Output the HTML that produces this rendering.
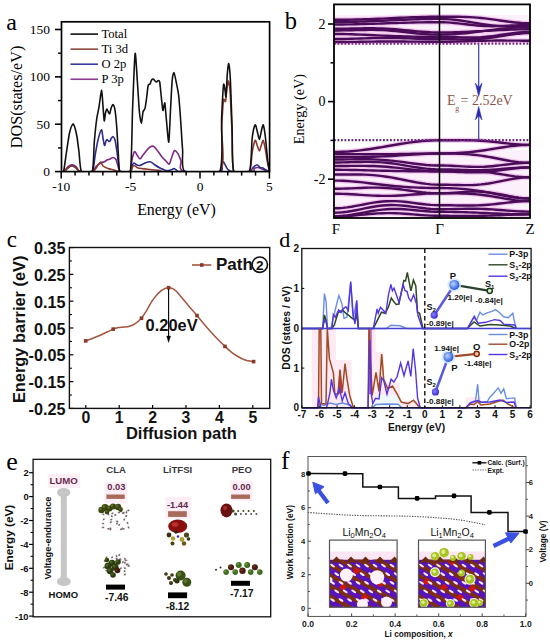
<!DOCTYPE html><html><head><meta charset="utf-8"><style>html,body{margin:0;padding:0;background:#fff;width:550px;height:642px;overflow:hidden}svg{display:block}</style></head><body>
<svg width="550" height="642" viewBox="0 0 550 642">
<rect x="0" y="0" width="550" height="642" fill="#fff" stroke="none" stroke-width="1" />
<text x="6.3" y="29.6" font-family='"Liberation Serif", serif' font-size="24" font-weight="normal" text-anchor="start" fill="#000" >a</text>
<line x1="55" y1="171.6" x2="61.5" y2="171.6" stroke="#000" stroke-width="1.6" />
<text x="50" y="176.2" font-family='"Liberation Serif", serif' font-size="13.5" font-weight="normal" text-anchor="end" fill="#000" >0</text>
<line x1="55" y1="124.23" x2="61.5" y2="124.23" stroke="#000" stroke-width="1.6" />
<text x="50" y="128.83" font-family='"Liberation Serif", serif' font-size="13.5" font-weight="normal" text-anchor="end" fill="#000" >50</text>
<line x1="55" y1="76.87" x2="61.5" y2="76.87" stroke="#000" stroke-width="1.6" />
<text x="50" y="81.47" font-family='"Liberation Serif", serif' font-size="13.5" font-weight="normal" text-anchor="end" fill="#000" >100</text>
<line x1="55" y1="29.5" x2="61.5" y2="29.5" stroke="#000" stroke-width="1.6" />
<text x="50" y="34.1" font-family='"Liberation Serif", serif' font-size="13.5" font-weight="normal" text-anchor="end" fill="#000" >150</text>
<line x1="58" y1="147.92" x2="61.5" y2="147.92" stroke="#000" stroke-width="1.4" />
<line x1="58" y1="100.55" x2="61.5" y2="100.55" stroke="#000" stroke-width="1.4" />
<line x1="58" y1="53.19" x2="61.5" y2="53.19" stroke="#000" stroke-width="1.4" />
<line x1="61.2" y1="171.6" x2="61.2" y2="178.6" stroke="#000" stroke-width="1.5" />
<line x1="75.08" y1="171.6" x2="75.08" y2="175.6" stroke="#000" stroke-width="1.5" />
<line x1="88.96" y1="171.6" x2="88.96" y2="175.6" stroke="#000" stroke-width="1.5" />
<line x1="102.84" y1="171.6" x2="102.84" y2="175.6" stroke="#000" stroke-width="1.5" />
<line x1="116.72" y1="171.6" x2="116.72" y2="175.6" stroke="#000" stroke-width="1.5" />
<line x1="130.6" y1="171.6" x2="130.6" y2="178.6" stroke="#000" stroke-width="1.5" />
<line x1="144.48" y1="171.6" x2="144.48" y2="175.6" stroke="#000" stroke-width="1.5" />
<line x1="158.36" y1="171.6" x2="158.36" y2="175.6" stroke="#000" stroke-width="1.5" />
<line x1="172.24" y1="171.6" x2="172.24" y2="175.6" stroke="#000" stroke-width="1.5" />
<line x1="186.12" y1="171.6" x2="186.12" y2="175.6" stroke="#000" stroke-width="1.5" />
<line x1="200" y1="171.6" x2="200" y2="178.6" stroke="#000" stroke-width="1.5" />
<line x1="213.88" y1="171.6" x2="213.88" y2="175.6" stroke="#000" stroke-width="1.5" />
<line x1="227.76" y1="171.6" x2="227.76" y2="175.6" stroke="#000" stroke-width="1.5" />
<line x1="241.64" y1="171.6" x2="241.64" y2="175.6" stroke="#000" stroke-width="1.5" />
<line x1="255.52" y1="171.6" x2="255.52" y2="175.6" stroke="#000" stroke-width="1.5" />
<line x1="269.4" y1="171.6" x2="269.4" y2="178.6" stroke="#000" stroke-width="1.5" />
<text x="61.2" y="190.8" font-family='"Liberation Serif", serif' font-size="13.5" font-weight="normal" text-anchor="middle" fill="#000" >-10</text>
<text x="130.6" y="190.8" font-family='"Liberation Serif", serif' font-size="13.5" font-weight="normal" text-anchor="middle" fill="#000" >-5</text>
<text x="200" y="190.8" font-family='"Liberation Serif", serif' font-size="13.5" font-weight="normal" text-anchor="middle" fill="#000" >0</text>
<text x="269.4" y="190.8" font-family='"Liberation Serif", serif' font-size="13.5" font-weight="normal" text-anchor="middle" fill="#000" >5</text>
<text x="0" y="0" transform="translate(21.6,96.9) rotate(-90)" font-family='"Liberation Serif", serif' font-size="16.2" font-weight="normal" text-anchor="middle" fill="#000">DOS(states/eV)</text>
<text x="176.5" y="214.6" font-family='"Liberation Serif", serif' font-size="15.9" font-weight="normal" text-anchor="middle" fill="#000" >Energy (eV)</text>
<line x1="70.5" y1="34.1" x2="98" y2="34.1" stroke="#111" stroke-width="1.6" />
<text x="101.5" y="38.1" font-family='"Liberation Serif", serif' font-size="12.6" font-weight="normal" text-anchor="start" fill="#000" >Total</text>
<line x1="70.5" y1="49.15" x2="98" y2="49.15" stroke="#8c4a3c" stroke-width="1.6" />
<text x="101.5" y="53.15" font-family='"Liberation Serif", serif' font-size="12.6" font-weight="normal" text-anchor="start" fill="#000" >Ti 3d</text>
<line x1="70.5" y1="64.2" x2="98" y2="64.2" stroke="#3a3a9c" stroke-width="1.6" />
<text x="101.5" y="68.2" font-family='"Liberation Serif", serif' font-size="12.6" font-weight="normal" text-anchor="start" fill="#000" >O 2p</text>
<line x1="70.5" y1="79.25" x2="98" y2="79.25" stroke="#8a3a90" stroke-width="1.6" />
<text x="101.5" y="83.25" font-family='"Liberation Serif", serif' font-size="12.6" font-weight="normal" text-anchor="start" fill="#000" >P 3p</text>
<clipPath id="ca"><rect x="61.5" y="21.8" width="208.1" height="149.8"/></clipPath><g clip-path="url(#ca)">
<path d="M61.5,171.6 C61.79,171.6 63.24,172.19 64,171.6 C64.76,171 67.07,167.31 68,166.5 C68.93,165.69 71.07,164.7 72,164.7 C72.93,164.7 75.07,165.69 76,166.5 C76.93,167.31 78.11,171 80,171.6 C81.89,172.19 90.33,172.19 92.2,171.6 C94.07,171 94.92,167.56 96,166.5 C97.08,165.44 100.57,163.03 101.5,162.5 C102.43,161.97 103.36,162.29 104,162 C104.64,161.71 106.3,160.35 107,160 C107.7,159.65 109.3,159.29 110,159 C110.7,158.71 112.3,157.44 113,157.5 C113.7,157.56 115.42,158.51 116,159.5 C116.58,160.49 117.53,164.59 118,166 C118.47,167.41 118.56,170.95 120,171.6 C121.44,172.25 128.9,172.95 130.3,171.6 C131.7,170.25 131.51,162.33 132,160 C132.49,157.67 133.92,152.18 134.5,151.6 C135.08,151.02 136.36,154.14 137,155 C137.64,155.86 139.3,159 140,159 C140.7,159 142.18,156.05 143,155 C143.82,153.95 146.18,150.93 147,150 C147.82,149.07 149.25,147.43 150,147 C150.75,146.57 152.58,145.95 153.4,146.3 C154.22,146.65 156,148.75 157,150 C158,151.25 160.95,155.72 162,157 C163.05,158.28 165.16,160.16 166,161 C166.84,161.84 168.56,164.55 169.2,164.2 C169.84,163.85 170.88,159.6 171.5,158 C172.12,156.4 173.74,151 174.5,150.5 C175.26,150 177.24,152.47 178,153.7 C178.76,154.92 180.18,158.91 181,161 C181.82,163.09 177.03,170.36 185,171.6 C192.97,172.84 241.25,171.96 249.3,171.6 C257.35,171.24 252.99,168.98 254,168.5 C255.01,168.02 257.07,167.44 258,167.5 C258.93,167.56 260.83,168.52 262,169 C263.17,169.48 267.3,171.3 268,171.6" stroke="#7e2a86" stroke-width="1.6" fill="none" />
<path d="M61.5,171.6 C61.79,171.6 63.24,172.02 64,171.6 C64.76,171.18 67.07,168.68 68,168 C68.93,167.32 71.07,165.86 72,165.8 C72.93,165.74 75.07,166.82 76,167.5 C76.93,168.18 78.11,171.12 80,171.6 C81.89,172.08 90.45,173.42 92.2,171.6 C93.95,169.78 94.32,159.69 95,156 C95.68,152.31 97.24,143.06 98,140 C98.76,136.94 100.92,130.03 101.5,129.8 C102.08,129.57 102.65,136.17 103,138 C103.35,139.83 104.15,145.15 104.5,145.5 C104.85,145.85 105.71,141.69 106,141 C106.29,140.31 106.71,139.6 107,139.6 C107.29,139.6 108.19,140.79 108.5,141 C108.81,141.21 109.35,141.75 109.7,141.4 C110.05,141.05 111.11,138.56 111.5,138 C111.89,137.44 112.59,136.37 113,136.6 C113.41,136.83 114.53,138.2 115,140 C115.47,141.8 116.53,148.73 117,152 C117.47,155.27 118.65,165.71 119,168 C119.35,170.29 118.68,171.18 120,171.6 C121.32,172.02 128.9,172.25 130.3,171.6 C131.7,170.95 131.57,167 132,166 C132.43,165 133.42,163.12 134,163 C134.58,162.88 136.3,164.71 137,165 C137.7,165.29 139.07,165.73 140,165.5 C140.93,165.27 143.8,163.44 145,163 C146.2,162.56 149.13,161.47 150.3,161.7 C151.47,161.93 153.87,164.26 155,165 C156.13,165.74 158.6,167.32 160,168 C161.4,168.68 165.6,170.62 167,170.8 C168.4,170.98 171.18,169.77 172,169.5 C172.82,169.23 173.42,168.38 174,168.5 C174.58,168.62 176.3,170.14 177,170.5 C177.7,170.86 175.03,171.47 180,171.6 C184.97,171.73 214.75,172.37 219.6,171.6 C224.45,170.83 221.14,166.14 221.6,165 C222.06,163.86 222.99,161.62 223.5,161.8 C224.01,161.98 225.47,165.6 226,166.5 C226.53,167.4 227.3,168.91 228,169.5 C228.7,170.09 229.51,171.35 232,171.6 C234.49,171.84 246.85,172.08 249.3,171.6 C251.75,171.12 252.1,168.31 253,167.5 C253.9,166.69 256.18,164.7 257,164.7 C257.82,164.7 259.3,167.12 260,167.5 C260.7,167.88 262.3,167.71 263,168 C263.7,168.29 265.23,169.58 266,170 C266.77,170.42 269.18,171.41 269.6,171.6" stroke="#2c2c8c" stroke-width="1.6" fill="none" />
<path d="M61.5,171.6 C61.79,171.6 63.24,172.08 64,171.6 C64.76,171.12 67.07,168.15 68,167.5 C68.93,166.85 71.07,165.94 72,166 C72.93,166.06 75.07,167.35 76,168 C76.93,168.65 78.11,171.18 80,171.6 C81.89,172.02 90.39,171.9 92.2,171.6 C94.01,171.3 94.82,169.77 95.5,169 C96.18,168.23 97.38,165.82 98,165 C98.62,164.18 100.22,161.88 100.8,162 C101.38,162.12 102.16,165.24 103,166 C103.84,166.76 106.72,168.03 108,168.5 C109.28,168.97 112.72,169.64 114,170 C115.28,170.36 117.1,171.41 119,171.6 C120.9,171.79 128.73,172.14 130.3,171.6 C131.88,171.06 132.01,167.71 132.5,167 C132.99,166.29 133.86,165.38 134.5,165.5 C135.14,165.62 136.19,167.53 138,168 C139.81,168.47 147.43,169.21 150,169.5 C152.57,169.79 158.25,170.25 160,170.5 C161.75,170.75 158.05,171.47 165,171.6 C171.95,171.73 213,176.69 219.6,171.6 C226.2,166.51 221.14,136.35 221.6,128 C222.06,119.65 223.04,103.09 223.5,100 C223.96,96.91 225.09,102.9 225.5,101.5 C225.91,100.1 226.64,90.39 227,88 C227.36,85.61 228.22,80.18 228.6,81 C228.98,81.82 229.89,88.7 230.3,95 C230.71,101.3 231.69,126.06 232.1,135 C232.51,143.94 231.79,167.33 233.8,171.6 C235.81,175.87 247.15,173.89 249.3,171.6 C251.45,169.31 251.51,155.64 252.2,152 C252.89,148.36 254.59,141.1 255.2,140.4 C255.81,139.7 256.91,144.76 257.4,146 C257.89,147.24 258.93,151.12 259.4,151 C259.87,150.88 260.94,146.24 261.4,145 C261.85,143.76 262.82,139.82 263.3,140.4 C263.78,140.98 265,147.36 265.5,150 C266,152.64 267.12,160.48 267.6,163 C268.08,165.52 269.37,170.6 269.6,171.6" stroke="#8a3a2c" stroke-width="1.6" fill="none" />
<path d="M61.5,171.6 C61.74,171.6 63.02,173.89 63.6,171.6 C64.18,169.31 65.81,156.5 66.5,152 C67.19,147.5 68.75,136.27 69.5,133 C70.25,129.73 72.26,124.58 72.9,124 C73.54,123.42 74.52,126.48 75,128 C75.48,129.52 76.53,134.2 77,137 C77.47,139.8 78.47,147.96 79,152 C79.53,156.04 79.96,169.31 81.5,171.6 C83.04,173.89 90.71,175.05 92.2,171.6 C93.69,168.15 93.77,148.14 94.3,142 C94.83,135.86 96.15,123.08 96.7,119 C97.25,114.92 98.44,110.34 99,107 C99.56,103.66 101.03,90.52 101.5,90.4 C101.97,90.28 102.69,102.45 103,106 C103.31,109.55 103.91,119.98 104.2,120.8 C104.49,121.62 105.19,114.38 105.5,113 C105.81,111.62 106.57,109.12 106.9,109 C107.23,108.88 107.97,111.45 108.3,112 C108.63,112.55 109.35,114.23 109.7,113.7 C110.05,113.17 110.9,108.55 111.3,107.5 C111.7,106.45 112.67,104.41 113.1,104.7 C113.53,104.99 114.57,107.28 115,110 C115.43,112.72 116.4,122.75 116.8,128 C117.2,133.25 118.03,149.91 118.4,155 C118.77,160.09 118.61,169.66 120,171.6 C121.39,173.54 128.83,179.02 130.3,171.6 C131.77,164.18 132.04,121.75 132.6,108 C133.16,94.25 134.54,56.73 135.1,53.7 C135.66,50.67 136.9,75.2 137.4,82 C137.9,88.8 138.93,107.19 139.4,112 C139.87,116.81 140.98,123.2 141.4,123.2 C141.82,123.2 142.58,113.73 143,112 C143.42,110.27 144.58,110.03 145,108.4 C145.42,106.77 146.23,100.7 146.6,98 C146.97,95.3 147.8,86.93 148.2,85.3 C148.6,83.67 149.6,84.62 150,84 C150.4,83.38 151.2,80.58 151.6,80 C152,79.42 153,78.88 153.4,79 C153.8,79.12 154.63,80.65 155,81 C155.37,81.35 156.23,82.06 156.6,82 C156.97,81.94 157.84,80.5 158.2,80.5 C158.56,80.5 159.35,80.19 159.7,82 C160.05,83.81 160.83,92.67 161.2,96 C161.57,99.33 162.48,109.68 162.9,110.5 C163.32,111.32 164.37,101.66 164.8,103 C165.23,104.34 166.13,117.45 166.6,122 C167.07,126.55 168.33,143.63 168.8,142 C169.27,140.37 170.2,115.23 170.6,108 C171,100.77 171.8,84.13 172.2,80 C172.6,75.87 173.53,72.37 174,72.6 C174.47,72.83 175.65,79.29 176.2,82 C176.75,84.71 178.2,91.6 178.7,95.8 C179.2,100 180.04,111.68 180.5,118 C180.96,124.32 182.07,143.75 182.6,150 C183.12,156.25 180.68,169.08 185,171.6 C189.32,174.12 215.33,177.85 219.6,171.6 C223.87,165.35 221.14,128.1 221.6,118 C222.06,107.9 223.1,88.27 223.5,85 C223.9,81.73 224.71,88.64 225,90 C225.29,91.36 225.73,98.57 226,96.7 C226.27,94.83 226.99,77.86 227.3,74 C227.62,70.14 228.34,62.9 228.7,63.6 C229.06,64.3 230,72.49 230.4,80 C230.8,87.51 231.7,117.31 232.1,128 C232.5,138.69 231.79,166.51 233.8,171.6 C235.81,176.69 247.15,175.52 249.3,171.6 C251.45,167.68 251.51,143.45 252.2,138 C252.89,132.55 254.59,125.6 255.2,124.9 C255.81,124.2 256.91,130.31 257.4,132 C257.89,133.69 258.93,139.52 259.4,139.4 C259.87,139.28 260.94,132.69 261.4,131 C261.85,129.31 262.82,124.08 263.3,124.9 C263.78,125.72 265,133.91 265.5,138 C266,142.09 267.12,156.08 267.6,160 C268.08,163.92 269.37,170.25 269.6,171.6" stroke="#111" stroke-width="1.6" fill="none" />
</g>
<rect x="61.5" y="21.8" width="208.1" height="149.8" fill="none" stroke="#000" stroke-width="1.7" />
<text x="284.8" y="29" font-family='"Liberation Serif", serif' font-size="24.5" font-weight="normal" text-anchor="start" fill="#000" >b</text>
<line x1="328" y1="179.2" x2="334" y2="179.2" stroke="#000" stroke-width="1.6" />
<text x="325.5" y="184" font-family='"Liberation Serif", serif' font-size="14" font-weight="normal" text-anchor="end" fill="#000" >-2</text>
<line x1="328" y1="101.6" x2="334" y2="101.6" stroke="#000" stroke-width="1.6" />
<text x="325.5" y="106.4" font-family='"Liberation Serif", serif' font-size="14" font-weight="normal" text-anchor="end" fill="#000" >0</text>
<line x1="328" y1="24" x2="334" y2="24" stroke="#000" stroke-width="1.6" />
<text x="325.5" y="28.8" font-family='"Liberation Serif", serif' font-size="14" font-weight="normal" text-anchor="end" fill="#000" >2</text>
<line x1="330.5" y1="140.4" x2="334" y2="140.4" stroke="#000" stroke-width="1.5" />
<line x1="330.5" y1="62.8" x2="334" y2="62.8" stroke="#000" stroke-width="1.5" />
<text x="0" y="0" transform="translate(304.3,109.1) rotate(-90)" font-family='"Liberation Serif", serif' font-size="14.2" font-weight="normal" text-anchor="middle" fill="#000">Energy (eV)</text>
<text x="336" y="234.3" font-family='"Liberation Serif", serif' font-size="15" font-weight="normal" text-anchor="middle" fill="#000" >F</text>
<text x="439.5" y="234.3" font-family='"Liberation Serif", serif' font-size="15" font-weight="normal" text-anchor="middle" fill="#000" >Γ</text>
<text x="530" y="234.3" font-family='"Liberation Serif", serif' font-size="15" font-weight="normal" text-anchor="middle" fill="#000" >Z</text>
<clipPath id="cb"><rect x="334" y="4.4" width="196" height="213.6"/></clipPath>
<g clip-path="url(#cb)">
<rect x="334" y="15" width="196" height="29" fill="#fcf0fa" stroke="none" stroke-width="1" />
<rect x="334" y="150" width="196" height="69" fill="#fcf0fa" stroke="none" stroke-width="1" />
<path d="M334,152 L338.4,151.95 L342.79,151.81 L347.19,151.58 L351.58,151.25 L355.98,150.85 L360.38,150.36 L364.77,149.81 L369.17,149.19 L373.56,148.52 L377.96,147.8 L382.35,147.06 L386.75,146.3 L391.15,145.53 L395.54,144.78 L399.94,144.04 L404.33,143.34 L408.73,142.68 L413.12,142.09 L417.52,141.56 L421.92,141.12 L426.31,140.77 L430.71,140.51 L435.1,140.35 L439.5,140.3 L443.27,140.29 L447.04,140.27 L450.81,140.24 L454.58,140.21 L458.35,140.18 L462.12,140.17 L465.9,140.19 L469.67,140.25 L473.44,140.35 L477.21,140.51 L480.98,140.73 L484.75,141 L488.52,141.33 L492.29,141.7 L496.06,142.11 L499.83,142.55 L503.6,142.99 L507.38,143.43 L511.15,143.83 L514.92,144.19 L518.69,144.49 L522.46,144.71 L526.23,144.85 L530,144.9" stroke="#f3c8ef" stroke-width="5" fill="none" />
<path d="M334,154 L338.4,154.01 L342.79,154.02 L347.19,154.05 L351.58,154.08 L355.98,154.12 L360.38,154.15 L364.77,154.19 L369.17,154.21 L373.56,154.23 L377.96,154.23 L382.35,154.22 L386.75,154.2 L391.15,154.16 L395.54,154.11 L399.94,154.04 L404.33,153.96 L408.73,153.88 L413.12,153.8 L417.52,153.72 L421.92,153.65 L426.31,153.58 L430.71,153.54 L435.1,153.51 L439.5,153.5 L443.27,153.48 L447.04,153.42 L450.81,153.32 L454.58,153.17 L458.35,152.98 L462.12,152.74 L465.9,152.45 L469.67,152.1 L473.44,151.7 L477.21,151.25 L480.98,150.74 L484.75,150.2 L488.52,149.62 L492.29,149.02 L496.06,148.41 L499.83,147.8 L503.6,147.21 L507.38,146.66 L511.15,146.16 L514.92,145.73 L518.69,145.37 L522.46,145.11 L526.23,144.95 L530,144.9" stroke="#f3c8ef" stroke-width="5" fill="none" />
<path d="M334,157 L338.4,157 L342.79,157 L347.19,157.01 L351.58,157 L355.98,156.99 L360.38,156.96 L364.77,156.91 L369.17,156.84 L373.56,156.73 L377.96,156.59 L382.35,156.41 L386.75,156.2 L391.15,155.96 L395.54,155.68 L399.94,155.39 L404.33,155.09 L408.73,154.78 L413.12,154.49 L417.52,154.21 L421.92,153.97 L426.31,153.77 L430.71,153.62 L435.1,153.53 L439.5,153.5 L443.27,153.51 L447.04,153.53 L450.81,153.57 L454.58,153.64 L458.35,153.74 L462.12,153.89 L465.9,154.09 L469.67,154.36 L473.44,154.71 L477.21,155.13 L480.98,155.63 L484.75,156.2 L488.52,156.84 L492.29,157.53 L496.06,158.27 L499.83,159.01 L503.6,159.75 L507.38,160.46 L511.15,161.12 L514.92,161.69 L518.69,162.16 L522.46,162.51 L526.23,162.73 L530,162.8" stroke="#f3c8ef" stroke-width="5" fill="none" />
<path d="M334,159.5 L338.4,159.49 L342.79,159.45 L347.19,159.39 L351.58,159.33 L355.98,159.27 L360.38,159.23 L364.77,159.23 L369.17,159.28 L373.56,159.39 L377.96,159.58 L382.35,159.85 L386.75,160.2 L391.15,160.63 L395.54,161.13 L399.94,161.68 L404.33,162.27 L408.73,162.88 L413.12,163.47 L417.52,164.03 L421.92,164.52 L426.31,164.93 L430.71,165.24 L435.1,165.44 L439.5,165.5 L443.27,165.53 L447.04,165.62 L450.81,165.77 L454.58,165.96 L458.35,166.17 L462.12,166.38 L465.9,166.58 L469.67,166.74 L473.44,166.84 L477.21,166.88 L480.98,166.83 L484.75,166.7 L488.52,166.48 L492.29,166.18 L496.06,165.81 L499.83,165.39 L503.6,164.93 L507.38,164.47 L511.15,164.02 L514.92,163.62 L518.69,163.28 L522.46,163.02 L526.23,162.85 L530,162.8" stroke="#f3c8ef" stroke-width="5" fill="none" />
<path d="M334,162.5 L338.4,162.48 L342.79,162.41 L347.19,162.3 L351.58,162.17 L355.98,162.05 L360.38,161.94 L364.77,161.87 L369.17,161.86 L373.56,161.94 L377.96,162.12 L382.35,162.4 L386.75,162.8 L391.15,163.3 L395.54,163.9 L399.94,164.58 L404.33,165.31 L408.73,166.07 L413.12,166.81 L417.52,167.52 L421.92,168.15 L426.31,168.68 L430.71,169.07 L435.1,169.32 L439.5,169.4 L443.27,169.42 L447.04,169.47 L450.81,169.56 L454.58,169.67 L458.35,169.79 L462.12,169.91 L465.9,170.02 L469.67,170.1 L473.44,170.15 L477.21,170.15 L480.98,170.1 L484.75,170 L488.52,169.84 L492.29,169.63 L496.06,169.38 L499.83,169.1 L503.6,168.8 L507.38,168.49 L511.15,168.2 L514.92,167.93 L518.69,167.71 L522.46,167.54 L526.23,167.44 L530,167.4" stroke="#f3c8ef" stroke-width="5" fill="none" />
<path d="M334,166 L338.4,165.99 L342.79,165.96 L347.19,165.93 L351.58,165.89 L355.98,165.85 L360.38,165.84 L364.77,165.86 L369.17,165.93 L373.56,166.05 L377.96,166.23 L382.35,166.48 L386.75,166.8 L391.15,167.18 L395.54,167.63 L399.94,168.11 L404.33,168.63 L408.73,169.15 L413.12,169.66 L417.52,170.14 L421.92,170.56 L426.31,170.92 L430.71,171.18 L435.1,171.34 L439.5,171.4 L443.27,171.39 L447.04,171.34 L450.81,171.28 L454.58,171.21 L458.35,171.14 L462.12,171.09 L465.9,171.08 L469.67,171.11 L473.44,171.22 L477.21,171.39 L480.98,171.65 L484.75,172 L488.52,172.43 L492.29,172.92 L496.06,173.47 L499.83,174.06 L503.6,174.67 L507.38,175.26 L511.15,175.82 L514.92,176.32 L518.69,176.73 L522.46,177.04 L526.23,177.23 L530,177.3" stroke="#f3c8ef" stroke-width="5" fill="none" />
<path d="M334,169.8 L338.4,169.81 L342.79,169.84 L347.19,169.89 L351.58,169.96 L355.98,170.04 L360.38,170.13 L364.77,170.24 L369.17,170.35 L373.56,170.46 L377.96,170.58 L382.35,170.69 L386.75,170.8 L391.15,170.9 L395.54,170.99 L399.94,171.08 L404.33,171.15 L408.73,171.21 L413.12,171.27 L417.52,171.31 L421.92,171.34 L426.31,171.37 L430.71,171.39 L435.1,171.4 L439.5,171.4 L443.27,171.43 L447.04,171.51 L450.81,171.63 L454.58,171.78 L458.35,171.95 L462.12,172.11 L465.9,172.25 L469.67,172.35 L473.44,172.38 L477.21,172.34 L480.98,172.22 L484.75,172 L488.52,171.69 L492.29,171.31 L496.06,170.85 L499.83,170.35 L503.6,169.82 L507.38,169.29 L511.15,168.78 L514.92,168.32 L518.69,167.93 L522.46,167.64 L526.23,167.46 L530,167.4" stroke="#f3c8ef" stroke-width="5" fill="none" />
<path d="M334,174.5 L338.4,174.49 L342.79,174.48 L347.19,174.46 L351.58,174.46 L355.98,174.48 L360.38,174.54 L364.77,174.67 L369.17,174.87 L373.56,175.17 L377.96,175.57 L382.35,176.08 L386.75,176.7 L391.15,177.42 L395.54,178.21 L399.94,179.08 L404.33,179.97 L408.73,180.88 L413.12,181.76 L417.52,182.57 L421.92,183.29 L426.31,183.89 L430.71,184.33 L435.1,184.61 L439.5,184.7 L443.27,184.72 L447.04,184.77 L450.81,184.86 L454.58,184.95 L458.35,185.05 L462.12,185.12 L465.9,185.14 L469.67,185.1 L473.44,184.98 L477.21,184.76 L480.98,184.43 L484.75,184 L488.52,183.47 L492.29,182.84 L496.06,182.14 L499.83,181.4 L503.6,180.64 L507.38,179.88 L511.15,179.18 L514.92,178.55 L518.69,178.02 L522.46,177.63 L526.23,177.38 L530,177.3" stroke="#f3c8ef" stroke-width="5" fill="none" />
<path d="M334,180.6 L338.4,180.65 L342.79,180.79 L347.19,181.03 L351.58,181.35 L355.98,181.74 L360.38,182.18 L364.77,182.68 L369.17,183.2 L373.56,183.74 L377.96,184.28 L382.35,184.8 L386.75,185.3 L391.15,185.77 L395.54,186.19 L399.94,186.57 L404.33,186.9 L408.73,187.18 L413.12,187.42 L417.52,187.61 L421.92,187.75 L426.31,187.86 L430.71,187.94 L435.1,187.99 L439.5,188 L443.27,188.02 L447.04,188.09 L450.81,188.2 L454.58,188.37 L458.35,188.58 L462.12,188.86 L465.9,189.2 L469.67,189.61 L473.44,190.09 L477.21,190.63 L480.98,191.24 L484.75,191.9 L488.52,192.61 L492.29,193.35 L496.06,194.11 L499.83,194.86 L503.6,195.6 L507.38,196.29 L511.15,196.91 L514.92,197.46 L518.69,197.9 L522.46,198.23 L526.23,198.43 L530,198.5" stroke="#f3c8ef" stroke-width="5" fill="none" />
<path d="M334,188.8 L338.4,188.77 L342.79,188.67 L347.19,188.52 L351.58,188.34 L355.98,188.13 L360.38,187.93 L364.77,187.76 L369.17,187.64 L373.56,187.59 L377.96,187.62 L382.35,187.76 L386.75,188 L391.15,188.35 L395.54,188.79 L399.94,189.31 L404.33,189.89 L408.73,190.5 L413.12,191.12 L417.52,191.7 L421.92,192.24 L426.31,192.68 L430.71,193.02 L435.1,193.23 L439.5,193.3 L443.27,193.3 L447.04,193.3 L450.81,193.3 L454.58,193.32 L458.35,193.36 L462.12,193.44 L465.9,193.57 L469.67,193.75 L473.44,194 L477.21,194.32 L480.98,194.73 L484.75,195.2 L488.52,195.74 L492.29,196.34 L496.06,196.99 L499.83,197.65 L503.6,198.32 L507.38,198.96 L511.15,199.55 L514.92,200.08 L518.69,200.51 L522.46,200.83 L526.23,201.03 L530,201.1" stroke="#f3c8ef" stroke-width="5" fill="none" />
<path d="M334,193.7 L338.4,193.74 L342.79,193.85 L347.19,194.04 L351.58,194.27 L355.98,194.55 L360.38,194.84 L364.77,195.13 L369.17,195.4 L373.56,195.63 L377.96,195.79 L382.35,195.89 L386.75,195.9 L391.15,195.83 L395.54,195.69 L399.94,195.47 L404.33,195.2 L408.73,194.89 L413.12,194.56 L417.52,194.23 L421.92,193.93 L426.31,193.67 L430.71,193.47 L435.1,193.34 L439.5,193.3 L443.27,193.26 L447.04,193.13 L450.81,192.93 L454.58,192.67 L458.35,192.39 L462.12,192.11 L465.9,191.86 L469.67,191.67 L473.44,191.58 L477.21,191.59 L480.98,191.73 L484.75,192 L488.52,192.41 L492.29,192.93 L496.06,193.57 L499.83,194.27 L503.6,195.03 L507.38,195.79 L511.15,196.52 L514.92,197.18 L518.69,197.73 L522.46,198.15 L526.23,198.41 L530,198.5" stroke="#f3c8ef" stroke-width="5" fill="none" />
<path d="M334,208.3 L338.4,208.19 L342.79,207.88 L347.19,207.37 L351.58,206.7 L355.98,205.92 L360.38,205.07 L364.77,204.2 L369.17,203.36 L373.56,202.61 L377.96,201.97 L382.35,201.5 L386.75,201.2 L391.15,201.09 L395.54,201.17 L399.94,201.42 L404.33,201.81 L408.73,202.31 L413.12,202.88 L417.52,203.46 L421.92,204.02 L426.31,204.51 L430.71,204.88 L435.1,205.12 L439.5,205.2 L443.27,205.21 L447.04,205.25 L450.81,205.31 L454.58,205.39 L458.35,205.46 L462.12,205.52 L465.9,205.56 L469.67,205.56 L473.44,205.51 L477.21,205.41 L480.98,205.24 L484.75,205 L488.52,204.7 L492.29,204.35 L496.06,203.94 L499.83,203.51 L503.6,203.07 L507.38,202.63 L511.15,202.21 L514.92,201.84 L518.69,201.53 L522.46,201.29 L526.23,201.15 L530,201.1" stroke="#f3c8ef" stroke-width="5" fill="none" />
<path d="M334,212.7 L338.4,212.59 L342.79,212.26 L347.19,211.72 L351.58,211.03 L355.98,210.21 L360.38,209.31 L364.77,208.4 L369.17,207.51 L373.56,206.71 L377.96,206.04 L382.35,205.53 L386.75,205.2 L391.15,205.07 L395.54,205.13 L399.94,205.37 L404.33,205.76 L408.73,206.27 L413.12,206.84 L417.52,207.43 L421.92,208 L426.31,208.49 L430.71,208.87 L435.1,209.12 L439.5,209.2 L443.27,209.19 L447.04,209.15 L450.81,209.08 L454.58,209 L458.35,208.92 L462.12,208.84 L465.9,208.78 L469.67,208.74 L473.44,208.73 L477.21,208.77 L480.98,208.86 L484.75,209 L488.52,209.19 L492.29,209.42 L496.06,209.69 L499.83,209.99 L503.6,210.3 L507.38,210.61 L511.15,210.9 L514.92,211.17 L518.69,211.39 L522.46,211.56 L526.23,211.66 L530,211.7" stroke="#f3c8ef" stroke-width="5" fill="none" />
<path d="M334,216.2 L338.4,216.1 L342.79,215.8 L347.19,215.33 L351.58,214.71 L355.98,213.97 L360.38,213.16 L364.77,212.32 L369.17,211.5 L373.56,210.74 L377.96,210.09 L382.35,209.57 L386.75,209.2 L391.15,208.99 L395.54,208.95 L399.94,209.06 L404.33,209.3 L408.73,209.64 L413.12,210.04 L417.52,210.48 L421.92,210.89 L426.31,211.26 L430.71,211.55 L435.1,211.74 L439.5,211.8 L443.27,211.81 L447.04,211.84 L450.81,211.88 L454.58,211.95 L458.35,212.03 L462.12,212.13 L465.9,212.25 L469.67,212.38 L473.44,212.52 L477.21,212.67 L480.98,212.83 L484.75,213 L488.52,213.17 L492.29,213.34 L496.06,213.51 L499.83,213.67 L503.6,213.83 L507.38,213.97 L511.15,214.09 L514.92,214.2 L518.69,214.29 L522.46,214.35 L526.23,214.39 L530,214.4" stroke="#f3c8ef" stroke-width="5" fill="none" />
<path d="M334,216.5 L338.4,216.45 L342.79,216.28 L347.19,216.03 L351.58,215.69 L355.98,215.3 L360.38,214.87 L364.77,214.44 L369.17,214.04 L373.56,213.68 L377.96,213.39 L382.35,213.2 L386.75,213.1 L391.15,213.11 L395.54,213.21 L399.94,213.41 L404.33,213.69 L408.73,214.02 L413.12,214.38 L417.52,214.74 L421.92,215.08 L426.31,215.38 L430.71,215.61 L435.1,215.75 L439.5,215.8 L443.27,215.8 L447.04,215.82 L450.81,215.83 L454.58,215.86 L458.35,215.88 L462.12,215.89 L465.9,215.9 L469.67,215.9 L473.44,215.88 L477.21,215.84 L480.98,215.78 L484.75,215.7 L488.52,215.6 L492.29,215.48 L496.06,215.34 L499.83,215.2 L503.6,215.05 L507.38,214.91 L511.15,214.77 L514.92,214.64 L518.69,214.54 L522.46,214.46 L526.23,214.42 L530,214.4" stroke="#f3c8ef" stroke-width="5" fill="none" />
<path d="M334,19.8 L338.4,19.79 L342.79,19.76 L347.19,19.7 L351.58,19.63 L355.98,19.54 L360.38,19.42 L364.77,19.29 L369.17,19.14 L373.56,18.97 L377.96,18.79 L382.35,18.6 L386.75,18.4 L391.15,18.2 L395.54,17.99 L399.94,17.78 L404.33,17.59 L408.73,17.4 L413.12,17.23 L417.52,17.08 L421.92,16.95 L426.31,16.84 L430.71,16.76 L435.1,16.72 L439.5,16.7 L443.27,16.7 L447.04,16.71 L450.81,16.72 L454.58,16.74 L458.35,16.79 L462.12,16.87 L465.9,16.98 L469.67,17.15 L473.44,17.37 L477.21,17.65 L480.98,18 L484.75,18.4 L488.52,18.86 L492.29,19.36 L496.06,19.9 L499.83,20.45 L503.6,21 L507.38,21.53 L511.15,22.03 L514.92,22.46 L518.69,22.81 L522.46,23.08 L526.23,23.24 L530,23.3" stroke="#f3c8ef" stroke-width="5" fill="none" />
<path d="M334,22 L338.4,21.99 L342.79,21.95 L347.19,21.89 L351.58,21.8 L355.98,21.7 L360.38,21.57 L364.77,21.43 L369.17,21.26 L373.56,21.09 L377.96,20.9 L382.35,20.7 L386.75,20.5 L391.15,20.3 L395.54,20.1 L399.94,19.9 L404.33,19.71 L408.73,19.54 L413.12,19.38 L417.52,19.24 L421.92,19.12 L426.31,19.03 L430.71,18.96 L435.1,18.91 L439.5,18.9 L443.27,18.96 L447.04,19.13 L450.81,19.42 L454.58,19.8 L458.35,20.27 L462.12,20.8 L465.9,21.39 L469.67,22 L473.44,22.63 L477.21,23.25 L480.98,23.84 L484.75,24.4 L488.52,24.91 L492.29,25.37 L496.06,25.76 L499.83,26.1 L503.6,26.38 L507.38,26.6 L511.15,26.77 L514.92,26.9 L518.69,26.99 L522.46,27.05 L526.23,27.09 L530,27.1" stroke="#f3c8ef" stroke-width="5" fill="none" />
<path d="M334,24.5 L338.4,24.49 L342.79,24.46 L347.19,24.41 L351.58,24.33 L355.98,24.24 L360.38,24.14 L364.77,24.02 L369.17,23.89 L373.56,23.75 L377.96,23.6 L382.35,23.45 L386.75,23.3 L391.15,23.15 L395.54,23.01 L399.94,22.87 L404.33,22.74 L408.73,22.62 L413.12,22.51 L417.52,22.42 L421.92,22.34 L426.31,22.28 L430.71,22.24 L435.1,22.21 L439.5,22.2 L443.27,22.25 L447.04,22.41 L450.81,22.66 L454.58,22.99 L458.35,23.39 L462.12,23.82 L465.9,24.27 L469.67,24.71 L473.44,25.12 L477.21,25.49 L480.98,25.78 L484.75,26 L488.52,26.13 L492.29,26.19 L496.06,26.16 L499.83,26.06 L503.6,25.91 L507.38,25.73 L511.15,25.53 L514.92,25.33 L518.69,25.16 L522.46,25.02 L526.23,24.93 L530,24.9" stroke="#f3c8ef" stroke-width="5" fill="none" />
<path d="M334,28.8 L338.4,28.78 L342.79,28.73 L347.19,28.66 L351.58,28.56 L355.98,28.46 L360.38,28.37 L364.77,28.3 L369.17,28.26 L373.56,28.28 L377.96,28.35 L382.35,28.49 L386.75,28.7 L391.15,28.97 L395.54,29.31 L399.94,29.69 L404.33,30.11 L408.73,30.55 L413.12,30.98 L417.52,31.4 L421.92,31.76 L426.31,32.07 L430.71,32.31 L435.1,32.45 L439.5,32.5 L443.27,32.49 L447.04,32.45 L450.81,32.38 L454.58,32.29 L458.35,32.17 L462.12,32.03 L465.9,31.87 L469.67,31.7 L473.44,31.51 L477.21,31.31 L480.98,31.11 L484.75,30.9 L488.52,30.69 L492.29,30.49 L496.06,30.29 L499.83,30.1 L503.6,29.93 L507.38,29.77 L511.15,29.63 L514.92,29.51 L518.69,29.42 L522.46,29.35 L526.23,29.31 L530,29.3" stroke="#f3c8ef" stroke-width="5" fill="none" />
<path d="M334,30.5 L338.4,30.48 L342.79,30.42 L347.19,30.34 L351.58,30.23 L355.98,30.12 L360.38,30.02 L364.77,29.94 L369.17,29.9 L373.56,29.92 L377.96,30 L382.35,30.16 L386.75,30.4 L391.15,30.71 L395.54,31.09 L399.94,31.53 L404.33,32 L408.73,32.49 L413.12,32.98 L417.52,33.45 L421.92,33.87 L426.31,34.22 L430.71,34.48 L435.1,34.64 L439.5,34.7 L443.27,34.67 L447.04,34.57 L450.81,34.41 L454.58,34.19 L458.35,33.91 L462.12,33.59 L465.9,33.21 L469.67,32.8 L473.44,32.35 L477.21,31.88 L480.98,31.4 L484.75,30.9 L488.52,30.4 L492.29,29.92 L496.06,29.45 L499.83,29 L503.6,28.59 L507.38,28.21 L511.15,27.89 L514.92,27.61 L518.69,27.39 L522.46,27.23 L526.23,27.13 L530,27.1" stroke="#f3c8ef" stroke-width="5" fill="none" />
<path d="M334,34 L338.4,34.02 L342.79,34.07 L347.19,34.16 L351.58,34.28 L355.98,34.43 L360.38,34.6 L364.77,34.79 L369.17,34.99 L373.56,35.19 L377.96,35.4 L382.35,35.6 L386.75,35.8 L391.15,35.98 L395.54,36.15 L399.94,36.3 L404.33,36.44 L408.73,36.55 L413.12,36.65 L417.52,36.73 L421.92,36.79 L426.31,36.84 L430.71,36.87 L435.1,36.89 L439.5,36.9 L443.27,36.92 L447.04,36.98 L450.81,37.07 L454.58,37.18 L458.35,37.3 L462.12,37.41 L465.9,37.48 L469.67,37.51 L473.44,37.48 L477.21,37.37 L480.98,37.18 L484.75,36.9 L488.52,36.54 L492.29,36.1 L496.06,35.6 L499.83,35.06 L503.6,34.5 L507.38,33.94 L511.15,33.41 L514.92,32.94 L518.69,32.55 L522.46,32.25 L526.23,32.06 L530,32" stroke="#f3c8ef" stroke-width="5" fill="none" />
<path d="M334,39 L338.4,38.98 L342.79,38.93 L347.19,38.85 L351.58,38.74 L355.98,38.62 L360.38,38.49 L364.77,38.36 L369.17,38.24 L373.56,38.13 L377.96,38.06 L382.35,38.01 L386.75,38 L391.15,38.02 L395.54,38.08 L399.94,38.17 L404.33,38.29 L408.73,38.42 L413.12,38.56 L417.52,38.7 L421.92,38.83 L426.31,38.94 L430.71,39.03 L435.1,39.08 L439.5,39.1 L443.27,39.12 L447.04,39.16 L450.81,39.22 L454.58,39.3 L458.35,39.37 L462.12,39.42 L465.9,39.44 L469.67,39.4 L473.44,39.3 L477.21,39.12 L480.98,38.85 L484.75,38.5 L488.52,38.07 L492.29,37.56 L496.06,37 L499.83,36.4 L503.6,35.78 L507.38,35.18 L511.15,34.61 L514.92,34.1 L518.69,33.68 L522.46,33.36 L526.23,33.17 L530,33.1" stroke="#f3c8ef" stroke-width="5" fill="none" />
<path d="M334,42 L338.4,41.99 L342.79,41.97 L347.19,41.93 L351.58,41.89 L355.98,41.83 L360.38,41.77 L364.77,41.71 L369.17,41.65 L373.56,41.6 L377.96,41.55 L382.35,41.52 L386.75,41.5 L391.15,41.49 L395.54,41.5 L399.94,41.52 L404.33,41.55 L408.73,41.59 L413.12,41.63 L417.52,41.67 L421.92,41.71 L426.31,41.75 L430.71,41.78 L435.1,41.79 L439.5,41.8 L443.27,41.79 L447.04,41.74 L450.81,41.68 L454.58,41.59 L458.35,41.48 L462.12,41.36 L465.9,41.24 L469.67,41.11 L473.44,40.99 L477.21,40.88 L480.98,40.78 L484.75,40.7 L488.52,40.64 L492.29,40.59 L496.06,40.57 L499.83,40.56 L503.6,40.57 L507.38,40.59 L511.15,40.61 L514.92,40.64 L518.69,40.66 L522.46,40.68 L526.23,40.7 L530,40.7" stroke="#f3c8ef" stroke-width="5" fill="none" />
<path d="M334,152 L338.4,151.95 L342.79,151.81 L347.19,151.58 L351.58,151.25 L355.98,150.85 L360.38,150.36 L364.77,149.81 L369.17,149.19 L373.56,148.52 L377.96,147.8 L382.35,147.06 L386.75,146.3 L391.15,145.53 L395.54,144.78 L399.94,144.04 L404.33,143.34 L408.73,142.68 L413.12,142.09 L417.52,141.56 L421.92,141.12 L426.31,140.77 L430.71,140.51 L435.1,140.35 L439.5,140.3 L443.27,140.29 L447.04,140.27 L450.81,140.24 L454.58,140.21 L458.35,140.18 L462.12,140.17 L465.9,140.19 L469.67,140.25 L473.44,140.35 L477.21,140.51 L480.98,140.73 L484.75,141 L488.52,141.33 L492.29,141.7 L496.06,142.11 L499.83,142.55 L503.6,142.99 L507.38,143.43 L511.15,143.83 L514.92,144.19 L518.69,144.49 L522.46,144.71 L526.23,144.85 L530,144.9" stroke="#4a0c58" stroke-width="2.4" fill="none" />
<path d="M334,154 L338.4,154.01 L342.79,154.02 L347.19,154.05 L351.58,154.08 L355.98,154.12 L360.38,154.15 L364.77,154.19 L369.17,154.21 L373.56,154.23 L377.96,154.23 L382.35,154.22 L386.75,154.2 L391.15,154.16 L395.54,154.11 L399.94,154.04 L404.33,153.96 L408.73,153.88 L413.12,153.8 L417.52,153.72 L421.92,153.65 L426.31,153.58 L430.71,153.54 L435.1,153.51 L439.5,153.5 L443.27,153.48 L447.04,153.42 L450.81,153.32 L454.58,153.17 L458.35,152.98 L462.12,152.74 L465.9,152.45 L469.67,152.1 L473.44,151.7 L477.21,151.25 L480.98,150.74 L484.75,150.2 L488.52,149.62 L492.29,149.02 L496.06,148.41 L499.83,147.8 L503.6,147.21 L507.38,146.66 L511.15,146.16 L514.92,145.73 L518.69,145.37 L522.46,145.11 L526.23,144.95 L530,144.9" stroke="#4a0c58" stroke-width="2.4" fill="none" />
<path d="M334,157 L338.4,157 L342.79,157 L347.19,157.01 L351.58,157 L355.98,156.99 L360.38,156.96 L364.77,156.91 L369.17,156.84 L373.56,156.73 L377.96,156.59 L382.35,156.41 L386.75,156.2 L391.15,155.96 L395.54,155.68 L399.94,155.39 L404.33,155.09 L408.73,154.78 L413.12,154.49 L417.52,154.21 L421.92,153.97 L426.31,153.77 L430.71,153.62 L435.1,153.53 L439.5,153.5 L443.27,153.51 L447.04,153.53 L450.81,153.57 L454.58,153.64 L458.35,153.74 L462.12,153.89 L465.9,154.09 L469.67,154.36 L473.44,154.71 L477.21,155.13 L480.98,155.63 L484.75,156.2 L488.52,156.84 L492.29,157.53 L496.06,158.27 L499.83,159.01 L503.6,159.75 L507.38,160.46 L511.15,161.12 L514.92,161.69 L518.69,162.16 L522.46,162.51 L526.23,162.73 L530,162.8" stroke="#4a0c58" stroke-width="2.4" fill="none" />
<path d="M334,159.5 L338.4,159.49 L342.79,159.45 L347.19,159.39 L351.58,159.33 L355.98,159.27 L360.38,159.23 L364.77,159.23 L369.17,159.28 L373.56,159.39 L377.96,159.58 L382.35,159.85 L386.75,160.2 L391.15,160.63 L395.54,161.13 L399.94,161.68 L404.33,162.27 L408.73,162.88 L413.12,163.47 L417.52,164.03 L421.92,164.52 L426.31,164.93 L430.71,165.24 L435.1,165.44 L439.5,165.5 L443.27,165.53 L447.04,165.62 L450.81,165.77 L454.58,165.96 L458.35,166.17 L462.12,166.38 L465.9,166.58 L469.67,166.74 L473.44,166.84 L477.21,166.88 L480.98,166.83 L484.75,166.7 L488.52,166.48 L492.29,166.18 L496.06,165.81 L499.83,165.39 L503.6,164.93 L507.38,164.47 L511.15,164.02 L514.92,163.62 L518.69,163.28 L522.46,163.02 L526.23,162.85 L530,162.8" stroke="#4a0c58" stroke-width="2.4" fill="none" />
<path d="M334,162.5 L338.4,162.48 L342.79,162.41 L347.19,162.3 L351.58,162.17 L355.98,162.05 L360.38,161.94 L364.77,161.87 L369.17,161.86 L373.56,161.94 L377.96,162.12 L382.35,162.4 L386.75,162.8 L391.15,163.3 L395.54,163.9 L399.94,164.58 L404.33,165.31 L408.73,166.07 L413.12,166.81 L417.52,167.52 L421.92,168.15 L426.31,168.68 L430.71,169.07 L435.1,169.32 L439.5,169.4 L443.27,169.42 L447.04,169.47 L450.81,169.56 L454.58,169.67 L458.35,169.79 L462.12,169.91 L465.9,170.02 L469.67,170.1 L473.44,170.15 L477.21,170.15 L480.98,170.1 L484.75,170 L488.52,169.84 L492.29,169.63 L496.06,169.38 L499.83,169.1 L503.6,168.8 L507.38,168.49 L511.15,168.2 L514.92,167.93 L518.69,167.71 L522.46,167.54 L526.23,167.44 L530,167.4" stroke="#4a0c58" stroke-width="2.4" fill="none" />
<path d="M334,166 L338.4,165.99 L342.79,165.96 L347.19,165.93 L351.58,165.89 L355.98,165.85 L360.38,165.84 L364.77,165.86 L369.17,165.93 L373.56,166.05 L377.96,166.23 L382.35,166.48 L386.75,166.8 L391.15,167.18 L395.54,167.63 L399.94,168.11 L404.33,168.63 L408.73,169.15 L413.12,169.66 L417.52,170.14 L421.92,170.56 L426.31,170.92 L430.71,171.18 L435.1,171.34 L439.5,171.4 L443.27,171.39 L447.04,171.34 L450.81,171.28 L454.58,171.21 L458.35,171.14 L462.12,171.09 L465.9,171.08 L469.67,171.11 L473.44,171.22 L477.21,171.39 L480.98,171.65 L484.75,172 L488.52,172.43 L492.29,172.92 L496.06,173.47 L499.83,174.06 L503.6,174.67 L507.38,175.26 L511.15,175.82 L514.92,176.32 L518.69,176.73 L522.46,177.04 L526.23,177.23 L530,177.3" stroke="#4a0c58" stroke-width="2.4" fill="none" />
<path d="M334,169.8 L338.4,169.81 L342.79,169.84 L347.19,169.89 L351.58,169.96 L355.98,170.04 L360.38,170.13 L364.77,170.24 L369.17,170.35 L373.56,170.46 L377.96,170.58 L382.35,170.69 L386.75,170.8 L391.15,170.9 L395.54,170.99 L399.94,171.08 L404.33,171.15 L408.73,171.21 L413.12,171.27 L417.52,171.31 L421.92,171.34 L426.31,171.37 L430.71,171.39 L435.1,171.4 L439.5,171.4 L443.27,171.43 L447.04,171.51 L450.81,171.63 L454.58,171.78 L458.35,171.95 L462.12,172.11 L465.9,172.25 L469.67,172.35 L473.44,172.38 L477.21,172.34 L480.98,172.22 L484.75,172 L488.52,171.69 L492.29,171.31 L496.06,170.85 L499.83,170.35 L503.6,169.82 L507.38,169.29 L511.15,168.78 L514.92,168.32 L518.69,167.93 L522.46,167.64 L526.23,167.46 L530,167.4" stroke="#4a0c58" stroke-width="2.4" fill="none" />
<path d="M334,174.5 L338.4,174.49 L342.79,174.48 L347.19,174.46 L351.58,174.46 L355.98,174.48 L360.38,174.54 L364.77,174.67 L369.17,174.87 L373.56,175.17 L377.96,175.57 L382.35,176.08 L386.75,176.7 L391.15,177.42 L395.54,178.21 L399.94,179.08 L404.33,179.97 L408.73,180.88 L413.12,181.76 L417.52,182.57 L421.92,183.29 L426.31,183.89 L430.71,184.33 L435.1,184.61 L439.5,184.7 L443.27,184.72 L447.04,184.77 L450.81,184.86 L454.58,184.95 L458.35,185.05 L462.12,185.12 L465.9,185.14 L469.67,185.1 L473.44,184.98 L477.21,184.76 L480.98,184.43 L484.75,184 L488.52,183.47 L492.29,182.84 L496.06,182.14 L499.83,181.4 L503.6,180.64 L507.38,179.88 L511.15,179.18 L514.92,178.55 L518.69,178.02 L522.46,177.63 L526.23,177.38 L530,177.3" stroke="#4a0c58" stroke-width="2.4" fill="none" />
<path d="M334,180.6 L338.4,180.65 L342.79,180.79 L347.19,181.03 L351.58,181.35 L355.98,181.74 L360.38,182.18 L364.77,182.68 L369.17,183.2 L373.56,183.74 L377.96,184.28 L382.35,184.8 L386.75,185.3 L391.15,185.77 L395.54,186.19 L399.94,186.57 L404.33,186.9 L408.73,187.18 L413.12,187.42 L417.52,187.61 L421.92,187.75 L426.31,187.86 L430.71,187.94 L435.1,187.99 L439.5,188 L443.27,188.02 L447.04,188.09 L450.81,188.2 L454.58,188.37 L458.35,188.58 L462.12,188.86 L465.9,189.2 L469.67,189.61 L473.44,190.09 L477.21,190.63 L480.98,191.24 L484.75,191.9 L488.52,192.61 L492.29,193.35 L496.06,194.11 L499.83,194.86 L503.6,195.6 L507.38,196.29 L511.15,196.91 L514.92,197.46 L518.69,197.9 L522.46,198.23 L526.23,198.43 L530,198.5" stroke="#4a0c58" stroke-width="2.4" fill="none" />
<path d="M334,188.8 L338.4,188.77 L342.79,188.67 L347.19,188.52 L351.58,188.34 L355.98,188.13 L360.38,187.93 L364.77,187.76 L369.17,187.64 L373.56,187.59 L377.96,187.62 L382.35,187.76 L386.75,188 L391.15,188.35 L395.54,188.79 L399.94,189.31 L404.33,189.89 L408.73,190.5 L413.12,191.12 L417.52,191.7 L421.92,192.24 L426.31,192.68 L430.71,193.02 L435.1,193.23 L439.5,193.3 L443.27,193.3 L447.04,193.3 L450.81,193.3 L454.58,193.32 L458.35,193.36 L462.12,193.44 L465.9,193.57 L469.67,193.75 L473.44,194 L477.21,194.32 L480.98,194.73 L484.75,195.2 L488.52,195.74 L492.29,196.34 L496.06,196.99 L499.83,197.65 L503.6,198.32 L507.38,198.96 L511.15,199.55 L514.92,200.08 L518.69,200.51 L522.46,200.83 L526.23,201.03 L530,201.1" stroke="#4a0c58" stroke-width="2.4" fill="none" />
<path d="M334,193.7 L338.4,193.74 L342.79,193.85 L347.19,194.04 L351.58,194.27 L355.98,194.55 L360.38,194.84 L364.77,195.13 L369.17,195.4 L373.56,195.63 L377.96,195.79 L382.35,195.89 L386.75,195.9 L391.15,195.83 L395.54,195.69 L399.94,195.47 L404.33,195.2 L408.73,194.89 L413.12,194.56 L417.52,194.23 L421.92,193.93 L426.31,193.67 L430.71,193.47 L435.1,193.34 L439.5,193.3 L443.27,193.26 L447.04,193.13 L450.81,192.93 L454.58,192.67 L458.35,192.39 L462.12,192.11 L465.9,191.86 L469.67,191.67 L473.44,191.58 L477.21,191.59 L480.98,191.73 L484.75,192 L488.52,192.41 L492.29,192.93 L496.06,193.57 L499.83,194.27 L503.6,195.03 L507.38,195.79 L511.15,196.52 L514.92,197.18 L518.69,197.73 L522.46,198.15 L526.23,198.41 L530,198.5" stroke="#4a0c58" stroke-width="2.4" fill="none" />
<path d="M334,208.3 L338.4,208.19 L342.79,207.88 L347.19,207.37 L351.58,206.7 L355.98,205.92 L360.38,205.07 L364.77,204.2 L369.17,203.36 L373.56,202.61 L377.96,201.97 L382.35,201.5 L386.75,201.2 L391.15,201.09 L395.54,201.17 L399.94,201.42 L404.33,201.81 L408.73,202.31 L413.12,202.88 L417.52,203.46 L421.92,204.02 L426.31,204.51 L430.71,204.88 L435.1,205.12 L439.5,205.2 L443.27,205.21 L447.04,205.25 L450.81,205.31 L454.58,205.39 L458.35,205.46 L462.12,205.52 L465.9,205.56 L469.67,205.56 L473.44,205.51 L477.21,205.41 L480.98,205.24 L484.75,205 L488.52,204.7 L492.29,204.35 L496.06,203.94 L499.83,203.51 L503.6,203.07 L507.38,202.63 L511.15,202.21 L514.92,201.84 L518.69,201.53 L522.46,201.29 L526.23,201.15 L530,201.1" stroke="#4a0c58" stroke-width="2.4" fill="none" />
<path d="M334,212.7 L338.4,212.59 L342.79,212.26 L347.19,211.72 L351.58,211.03 L355.98,210.21 L360.38,209.31 L364.77,208.4 L369.17,207.51 L373.56,206.71 L377.96,206.04 L382.35,205.53 L386.75,205.2 L391.15,205.07 L395.54,205.13 L399.94,205.37 L404.33,205.76 L408.73,206.27 L413.12,206.84 L417.52,207.43 L421.92,208 L426.31,208.49 L430.71,208.87 L435.1,209.12 L439.5,209.2 L443.27,209.19 L447.04,209.15 L450.81,209.08 L454.58,209 L458.35,208.92 L462.12,208.84 L465.9,208.78 L469.67,208.74 L473.44,208.73 L477.21,208.77 L480.98,208.86 L484.75,209 L488.52,209.19 L492.29,209.42 L496.06,209.69 L499.83,209.99 L503.6,210.3 L507.38,210.61 L511.15,210.9 L514.92,211.17 L518.69,211.39 L522.46,211.56 L526.23,211.66 L530,211.7" stroke="#4a0c58" stroke-width="2.4" fill="none" />
<path d="M334,216.2 L338.4,216.1 L342.79,215.8 L347.19,215.33 L351.58,214.71 L355.98,213.97 L360.38,213.16 L364.77,212.32 L369.17,211.5 L373.56,210.74 L377.96,210.09 L382.35,209.57 L386.75,209.2 L391.15,208.99 L395.54,208.95 L399.94,209.06 L404.33,209.3 L408.73,209.64 L413.12,210.04 L417.52,210.48 L421.92,210.89 L426.31,211.26 L430.71,211.55 L435.1,211.74 L439.5,211.8 L443.27,211.81 L447.04,211.84 L450.81,211.88 L454.58,211.95 L458.35,212.03 L462.12,212.13 L465.9,212.25 L469.67,212.38 L473.44,212.52 L477.21,212.67 L480.98,212.83 L484.75,213 L488.52,213.17 L492.29,213.34 L496.06,213.51 L499.83,213.67 L503.6,213.83 L507.38,213.97 L511.15,214.09 L514.92,214.2 L518.69,214.29 L522.46,214.35 L526.23,214.39 L530,214.4" stroke="#4a0c58" stroke-width="2.4" fill="none" />
<path d="M334,216.5 L338.4,216.45 L342.79,216.28 L347.19,216.03 L351.58,215.69 L355.98,215.3 L360.38,214.87 L364.77,214.44 L369.17,214.04 L373.56,213.68 L377.96,213.39 L382.35,213.2 L386.75,213.1 L391.15,213.11 L395.54,213.21 L399.94,213.41 L404.33,213.69 L408.73,214.02 L413.12,214.38 L417.52,214.74 L421.92,215.08 L426.31,215.38 L430.71,215.61 L435.1,215.75 L439.5,215.8 L443.27,215.8 L447.04,215.82 L450.81,215.83 L454.58,215.86 L458.35,215.88 L462.12,215.89 L465.9,215.9 L469.67,215.9 L473.44,215.88 L477.21,215.84 L480.98,215.78 L484.75,215.7 L488.52,215.6 L492.29,215.48 L496.06,215.34 L499.83,215.2 L503.6,215.05 L507.38,214.91 L511.15,214.77 L514.92,214.64 L518.69,214.54 L522.46,214.46 L526.23,214.42 L530,214.4" stroke="#4a0c58" stroke-width="2.4" fill="none" />
<path d="M334,19.8 L338.4,19.79 L342.79,19.76 L347.19,19.7 L351.58,19.63 L355.98,19.54 L360.38,19.42 L364.77,19.29 L369.17,19.14 L373.56,18.97 L377.96,18.79 L382.35,18.6 L386.75,18.4 L391.15,18.2 L395.54,17.99 L399.94,17.78 L404.33,17.59 L408.73,17.4 L413.12,17.23 L417.52,17.08 L421.92,16.95 L426.31,16.84 L430.71,16.76 L435.1,16.72 L439.5,16.7 L443.27,16.7 L447.04,16.71 L450.81,16.72 L454.58,16.74 L458.35,16.79 L462.12,16.87 L465.9,16.98 L469.67,17.15 L473.44,17.37 L477.21,17.65 L480.98,18 L484.75,18.4 L488.52,18.86 L492.29,19.36 L496.06,19.9 L499.83,20.45 L503.6,21 L507.38,21.53 L511.15,22.03 L514.92,22.46 L518.69,22.81 L522.46,23.08 L526.23,23.24 L530,23.3" stroke="#4a0c58" stroke-width="2.4" fill="none" />
<path d="M334,22 L338.4,21.99 L342.79,21.95 L347.19,21.89 L351.58,21.8 L355.98,21.7 L360.38,21.57 L364.77,21.43 L369.17,21.26 L373.56,21.09 L377.96,20.9 L382.35,20.7 L386.75,20.5 L391.15,20.3 L395.54,20.1 L399.94,19.9 L404.33,19.71 L408.73,19.54 L413.12,19.38 L417.52,19.24 L421.92,19.12 L426.31,19.03 L430.71,18.96 L435.1,18.91 L439.5,18.9 L443.27,18.96 L447.04,19.13 L450.81,19.42 L454.58,19.8 L458.35,20.27 L462.12,20.8 L465.9,21.39 L469.67,22 L473.44,22.63 L477.21,23.25 L480.98,23.84 L484.75,24.4 L488.52,24.91 L492.29,25.37 L496.06,25.76 L499.83,26.1 L503.6,26.38 L507.38,26.6 L511.15,26.77 L514.92,26.9 L518.69,26.99 L522.46,27.05 L526.23,27.09 L530,27.1" stroke="#4a0c58" stroke-width="2.4" fill="none" />
<path d="M334,24.5 L338.4,24.49 L342.79,24.46 L347.19,24.41 L351.58,24.33 L355.98,24.24 L360.38,24.14 L364.77,24.02 L369.17,23.89 L373.56,23.75 L377.96,23.6 L382.35,23.45 L386.75,23.3 L391.15,23.15 L395.54,23.01 L399.94,22.87 L404.33,22.74 L408.73,22.62 L413.12,22.51 L417.52,22.42 L421.92,22.34 L426.31,22.28 L430.71,22.24 L435.1,22.21 L439.5,22.2 L443.27,22.25 L447.04,22.41 L450.81,22.66 L454.58,22.99 L458.35,23.39 L462.12,23.82 L465.9,24.27 L469.67,24.71 L473.44,25.12 L477.21,25.49 L480.98,25.78 L484.75,26 L488.52,26.13 L492.29,26.19 L496.06,26.16 L499.83,26.06 L503.6,25.91 L507.38,25.73 L511.15,25.53 L514.92,25.33 L518.69,25.16 L522.46,25.02 L526.23,24.93 L530,24.9" stroke="#4a0c58" stroke-width="2.4" fill="none" />
<path d="M334,28.8 L338.4,28.78 L342.79,28.73 L347.19,28.66 L351.58,28.56 L355.98,28.46 L360.38,28.37 L364.77,28.3 L369.17,28.26 L373.56,28.28 L377.96,28.35 L382.35,28.49 L386.75,28.7 L391.15,28.97 L395.54,29.31 L399.94,29.69 L404.33,30.11 L408.73,30.55 L413.12,30.98 L417.52,31.4 L421.92,31.76 L426.31,32.07 L430.71,32.31 L435.1,32.45 L439.5,32.5 L443.27,32.49 L447.04,32.45 L450.81,32.38 L454.58,32.29 L458.35,32.17 L462.12,32.03 L465.9,31.87 L469.67,31.7 L473.44,31.51 L477.21,31.31 L480.98,31.11 L484.75,30.9 L488.52,30.69 L492.29,30.49 L496.06,30.29 L499.83,30.1 L503.6,29.93 L507.38,29.77 L511.15,29.63 L514.92,29.51 L518.69,29.42 L522.46,29.35 L526.23,29.31 L530,29.3" stroke="#4a0c58" stroke-width="2.4" fill="none" />
<path d="M334,30.5 L338.4,30.48 L342.79,30.42 L347.19,30.34 L351.58,30.23 L355.98,30.12 L360.38,30.02 L364.77,29.94 L369.17,29.9 L373.56,29.92 L377.96,30 L382.35,30.16 L386.75,30.4 L391.15,30.71 L395.54,31.09 L399.94,31.53 L404.33,32 L408.73,32.49 L413.12,32.98 L417.52,33.45 L421.92,33.87 L426.31,34.22 L430.71,34.48 L435.1,34.64 L439.5,34.7 L443.27,34.67 L447.04,34.57 L450.81,34.41 L454.58,34.19 L458.35,33.91 L462.12,33.59 L465.9,33.21 L469.67,32.8 L473.44,32.35 L477.21,31.88 L480.98,31.4 L484.75,30.9 L488.52,30.4 L492.29,29.92 L496.06,29.45 L499.83,29 L503.6,28.59 L507.38,28.21 L511.15,27.89 L514.92,27.61 L518.69,27.39 L522.46,27.23 L526.23,27.13 L530,27.1" stroke="#4a0c58" stroke-width="2.4" fill="none" />
<path d="M334,34 L338.4,34.02 L342.79,34.07 L347.19,34.16 L351.58,34.28 L355.98,34.43 L360.38,34.6 L364.77,34.79 L369.17,34.99 L373.56,35.19 L377.96,35.4 L382.35,35.6 L386.75,35.8 L391.15,35.98 L395.54,36.15 L399.94,36.3 L404.33,36.44 L408.73,36.55 L413.12,36.65 L417.52,36.73 L421.92,36.79 L426.31,36.84 L430.71,36.87 L435.1,36.89 L439.5,36.9 L443.27,36.92 L447.04,36.98 L450.81,37.07 L454.58,37.18 L458.35,37.3 L462.12,37.41 L465.9,37.48 L469.67,37.51 L473.44,37.48 L477.21,37.37 L480.98,37.18 L484.75,36.9 L488.52,36.54 L492.29,36.1 L496.06,35.6 L499.83,35.06 L503.6,34.5 L507.38,33.94 L511.15,33.41 L514.92,32.94 L518.69,32.55 L522.46,32.25 L526.23,32.06 L530,32" stroke="#4a0c58" stroke-width="2.4" fill="none" />
<path d="M334,39 L338.4,38.98 L342.79,38.93 L347.19,38.85 L351.58,38.74 L355.98,38.62 L360.38,38.49 L364.77,38.36 L369.17,38.24 L373.56,38.13 L377.96,38.06 L382.35,38.01 L386.75,38 L391.15,38.02 L395.54,38.08 L399.94,38.17 L404.33,38.29 L408.73,38.42 L413.12,38.56 L417.52,38.7 L421.92,38.83 L426.31,38.94 L430.71,39.03 L435.1,39.08 L439.5,39.1 L443.27,39.12 L447.04,39.16 L450.81,39.22 L454.58,39.3 L458.35,39.37 L462.12,39.42 L465.9,39.44 L469.67,39.4 L473.44,39.3 L477.21,39.12 L480.98,38.85 L484.75,38.5 L488.52,38.07 L492.29,37.56 L496.06,37 L499.83,36.4 L503.6,35.78 L507.38,35.18 L511.15,34.61 L514.92,34.1 L518.69,33.68 L522.46,33.36 L526.23,33.17 L530,33.1" stroke="#4a0c58" stroke-width="2.4" fill="none" />
<path d="M334,42 L338.4,41.99 L342.79,41.97 L347.19,41.93 L351.58,41.89 L355.98,41.83 L360.38,41.77 L364.77,41.71 L369.17,41.65 L373.56,41.6 L377.96,41.55 L382.35,41.52 L386.75,41.5 L391.15,41.49 L395.54,41.5 L399.94,41.52 L404.33,41.55 L408.73,41.59 L413.12,41.63 L417.52,41.67 L421.92,41.71 L426.31,41.75 L430.71,41.78 L435.1,41.79 L439.5,41.8 L443.27,41.79 L447.04,41.74 L450.81,41.68 L454.58,41.59 L458.35,41.48 L462.12,41.36 L465.9,41.24 L469.67,41.11 L473.44,40.99 L477.21,40.88 L480.98,40.78 L484.75,40.7 L488.52,40.64 L492.29,40.59 L496.06,40.57 L499.83,40.56 L503.6,40.57 L507.38,40.59 L511.15,40.61 L514.92,40.64 L518.69,40.66 L522.46,40.68 L526.23,40.7 L530,40.7" stroke="#4a0c58" stroke-width="2.4" fill="none" />
</g>
<line x1="334" y1="43.6" x2="530" y2="43.6" stroke="#7a2a80" stroke-width="2.2" stroke-dasharray="1.8,1.7"/>
<line x1="334" y1="140.2" x2="530" y2="140.2" stroke="#6a2a80" stroke-width="2.2" stroke-dasharray="1.8,1.7"/>
<line x1="439.5" y1="4.4" x2="439.5" y2="218" stroke="#000" stroke-width="1.5" />
<rect x="334" y="4.4" width="196" height="213.6" fill="none" stroke="#000" stroke-width="1.8" />
<line x1="478.7" y1="44.5" x2="478.7" y2="90" stroke="#3a3ab0" stroke-width="1.2" />
<path d="M475.3,83 L478.7,96.6 L482.1,83 L478.7,87.5 Z" stroke="#2a2ab0" stroke-width="0.5" fill="#2a2ab0" />
<line x1="478.7" y1="112" x2="478.7" y2="139.6" stroke="#3a3ab0" stroke-width="1.2" />
<path d="M475.3,120 L478.7,106.4 L482.1,120 L478.7,115.5 Z" stroke="#2a2ab0" stroke-width="0.5" fill="#2a2ab0" />
<text x="447" y="104.5" font-family='"Liberation Serif", serif' font-size="14" font-weight="normal" text-anchor="start" fill="#8a5548" >E</text>
<text x="455.3" y="110.8" font-family='"Liberation Serif", serif' font-size="8" font-weight="normal" text-anchor="start" fill="#8a5548" >g</text>
<text x="460.5" y="104.5" font-family='"Liberation Serif", serif' font-size="14" font-weight="normal" text-anchor="start" fill="#8a5548" >= 2.52eV</text>
<text x="6.8" y="246.6" font-family='"Liberation Serif", serif' font-size="23" font-weight="normal" text-anchor="start" fill="#000" >c</text>
<line x1="69.4" y1="247.53" x2="73.4" y2="247.53" stroke="#000" stroke-width="1.2" />
<text x="65.5" y="254.13" font-family='"Liberation Sans", sans-serif' font-size="16.2" font-weight="bold" text-anchor="end" fill="#111" >0.35</text>
<line x1="69.4" y1="274.35" x2="73.4" y2="274.35" stroke="#000" stroke-width="1.2" />
<text x="65.5" y="280.95" font-family='"Liberation Sans", sans-serif' font-size="16.2" font-weight="bold" text-anchor="end" fill="#111" >0.25</text>
<line x1="69.4" y1="301.17" x2="73.4" y2="301.17" stroke="#000" stroke-width="1.2" />
<text x="65.5" y="307.77" font-family='"Liberation Sans", sans-serif' font-size="16.2" font-weight="bold" text-anchor="end" fill="#111" >0.15</text>
<line x1="69.4" y1="327.99" x2="73.4" y2="327.99" stroke="#000" stroke-width="1.2" />
<text x="65.5" y="334.59" font-family='"Liberation Sans", sans-serif' font-size="16.2" font-weight="bold" text-anchor="end" fill="#111" >0.05</text>
<line x1="69.4" y1="354.81" x2="73.4" y2="354.81" stroke="#000" stroke-width="1.2" />
<text x="65.5" y="361.41" font-family='"Liberation Sans", sans-serif' font-size="16.2" font-weight="bold" text-anchor="end" fill="#111" >-0.05</text>
<line x1="69.4" y1="381.63" x2="73.4" y2="381.63" stroke="#000" stroke-width="1.2" />
<text x="65.5" y="388.23" font-family='"Liberation Sans", sans-serif' font-size="16.2" font-weight="bold" text-anchor="end" fill="#111" >-0.15</text>
<line x1="69.4" y1="408.45" x2="73.4" y2="408.45" stroke="#000" stroke-width="1.2" />
<text x="65.5" y="415.05" font-family='"Liberation Sans", sans-serif' font-size="16.2" font-weight="bold" text-anchor="end" fill="#111" >-0.25</text>
<line x1="69.4" y1="260.94" x2="71.9" y2="260.94" stroke="#000" stroke-width="1.1" />
<line x1="69.4" y1="287.76" x2="71.9" y2="287.76" stroke="#000" stroke-width="1.1" />
<line x1="69.4" y1="314.58" x2="71.9" y2="314.58" stroke="#000" stroke-width="1.1" />
<line x1="69.4" y1="341.4" x2="71.9" y2="341.4" stroke="#000" stroke-width="1.1" />
<line x1="69.4" y1="368.22" x2="71.9" y2="368.22" stroke="#000" stroke-width="1.1" />
<line x1="69.4" y1="395.04" x2="71.9" y2="395.04" stroke="#000" stroke-width="1.1" />
<line x1="85.8" y1="408.4" x2="85.8" y2="404.9" stroke="#000" stroke-width="1.2" />
<text x="85.8" y="423.4" font-family='"Liberation Sans", sans-serif' font-size="15.8" font-weight="bold" text-anchor="middle" fill="#111" >0</text>
<line x1="119.2" y1="408.4" x2="119.2" y2="404.9" stroke="#000" stroke-width="1.2" />
<text x="119.2" y="423.4" font-family='"Liberation Sans", sans-serif' font-size="15.8" font-weight="bold" text-anchor="middle" fill="#111" >1</text>
<line x1="152.6" y1="408.4" x2="152.6" y2="404.9" stroke="#000" stroke-width="1.2" />
<text x="152.6" y="423.4" font-family='"Liberation Sans", sans-serif' font-size="15.8" font-weight="bold" text-anchor="middle" fill="#111" >2</text>
<line x1="186" y1="408.4" x2="186" y2="404.9" stroke="#000" stroke-width="1.2" />
<text x="186" y="423.4" font-family='"Liberation Sans", sans-serif' font-size="15.8" font-weight="bold" text-anchor="middle" fill="#111" >3</text>
<line x1="219.4" y1="408.4" x2="219.4" y2="404.9" stroke="#000" stroke-width="1.2" />
<text x="219.4" y="423.4" font-family='"Liberation Sans", sans-serif' font-size="15.8" font-weight="bold" text-anchor="middle" fill="#111" >4</text>
<line x1="252.8" y1="408.4" x2="252.8" y2="404.9" stroke="#000" stroke-width="1.2" />
<text x="252.8" y="423.4" font-family='"Liberation Sans", sans-serif' font-size="15.8" font-weight="bold" text-anchor="middle" fill="#111" >5</text>
<text x="0" y="0" transform="translate(24.6,329.3) rotate(-90)" font-family='"Liberation Sans", sans-serif' font-size="16.4" font-weight="bold" text-anchor="middle" fill="#111">Energy barrier (eV)</text>
<text x="181.4" y="438.6" font-family='"Liberation Sans", sans-serif' font-size="16.5" font-weight="bold" text-anchor="middle" fill="#111" >Diffusion path</text>
<path d="M85.7,340.9 C87.92,340.05 94.42,337.77 99,335.8 C103.58,333.83 109.95,330.47 113.2,329.1 C116.45,327.73 116.7,327.93 118.5,327.6 C120.3,327.27 122.17,327.33 124,327.1 C125.83,326.87 127.75,326.7 129.5,326.2 C131.25,325.7 132.5,325.43 134.5,324.1 C136.5,322.77 139.42,320.58 141.5,318.2 C143.58,315.82 145.25,312.63 147,309.8 C148.75,306.97 150.42,303.62 152,301.2 C153.58,298.78 155.05,296.97 156.5,295.3 C157.95,293.63 159.35,292.32 160.7,291.2 C162.05,290.08 163.28,289.18 164.6,288.6 C165.92,288.02 167.23,287.7 168.6,287.7 C169.97,287.7 171.48,287.97 172.8,288.6 C174.12,289.23 175.3,290.35 176.5,291.5 C177.7,292.65 178.58,293.83 180,295.5 C181.42,297.17 183.33,299.5 185,301.5 C186.67,303.5 188,305.15 190,307.5 C192,309.85 194.75,312.92 197,315.6 C199.25,318.28 201.33,321.03 203.5,323.6 C205.67,326.17 207.67,328.43 210,331 C212.33,333.57 215,336.43 217.5,339 C220,341.57 222.75,344.27 225,346.4 C227.25,348.53 229,350.2 231,351.8 C233,353.4 234.67,354.63 237,356 C239.33,357.37 242.23,359.07 245,360 C247.77,360.93 252.17,361.33 253.6,361.6" stroke="#a4553e" stroke-width="1.5" fill="none" />
<rect x="83.9" y="339.1" width="3.6" height="3.6" fill="#8a3828" stroke="none" stroke-width="1" />
<rect x="111.4" y="327.3" width="3.6" height="3.6" fill="#8a3828" stroke="none" stroke-width="1" />
<rect x="139.7" y="316.4" width="3.6" height="3.6" fill="#8a3828" stroke="none" stroke-width="1" />
<rect x="166.8" y="285.9" width="3.6" height="3.6" fill="#8a3828" stroke="none" stroke-width="1" />
<rect x="195.2" y="313.8" width="3.6" height="3.6" fill="#8a3828" stroke="none" stroke-width="1" />
<rect x="223.2" y="344.6" width="3.6" height="3.6" fill="#8a3828" stroke="none" stroke-width="1" />
<rect x="251.8" y="359.8" width="3.6" height="3.6" fill="#8a3828" stroke="none" stroke-width="1" />
<line x1="168.6" y1="289" x2="168.6" y2="337" stroke="#000" stroke-width="1.1" />
<path d="M166.6,336 L168.6,342.6 L170.6,336 Z" stroke="#000" stroke-width="0.3" fill="#000" />
<text x="171.6" y="331.3" font-family='"Liberation Sans", sans-serif' font-size="16.4" font-weight="bold" text-anchor="middle" fill="#111" >0.20eV</text>
<line x1="192" y1="265" x2="211.3" y2="265" stroke="#a4553e" stroke-width="1.6" />
<rect x="200" y="263.2" width="3.6" height="3.6" fill="#8a3828" stroke="none" stroke-width="1" />
<text x="216" y="270.3" font-family='"Liberation Sans", sans-serif' font-size="17" font-weight="bold" text-anchor="start" fill="#111" >Path</text>
<circle cx="259.8" cy="264.7" r="7.7" fill="none" stroke="#111" stroke-width="1.6"/>
<text x="259.8" y="269.6" font-family='"Liberation Sans", sans-serif' font-size="13.6" font-weight="bold" text-anchor="middle" fill="#111" >2</text>
<rect x="69.4" y="247.5" width="200.3" height="160.9" fill="none" stroke="#111" stroke-width="1.4" />
<text x="279.3" y="246.8" font-family='"Liberation Serif", serif' font-size="22" font-weight="normal" text-anchor="start" fill="#000" >d</text>
<rect x="311.8" y="329" width="24.2" height="78.8" fill="#fdeaf3" stroke="none" stroke-width="1" />
<rect x="336" y="360" width="15.7" height="47.8" fill="#fdeaf3" stroke="none" stroke-width="1" />
<rect x="372.2" y="329" width="3.4" height="78.8" fill="#fdeaf3" stroke="none" stroke-width="1" />
<rect x="375.6" y="352" width="8.1" height="55.8" fill="#fdeaf3" stroke="none" stroke-width="1" />
<rect x="383.7" y="383" width="16.3" height="24.8" fill="#fdeaf3" stroke="none" stroke-width="1" />
<rect x="400" y="401" width="20" height="6.8" fill="#fdeaf3" stroke="none" stroke-width="1" />
<rect x="466" y="397" width="15" height="10.8" fill="#fdeaf3" stroke="none" stroke-width="1" />
<rect x="375" y="395" width="25" height="12.8" fill="#eef8fb" stroke="none" stroke-width="1" />
<text x="299" y="252.1" font-family='"Liberation Sans", sans-serif' font-size="10" font-weight="bold" text-anchor="end" fill="#111" >2</text>
<line x1="301.8" y1="248.5" x2="304.3" y2="248.5" stroke="#000" stroke-width="1" />
<text x="299" y="292" font-family='"Liberation Sans", sans-serif' font-size="10" font-weight="bold" text-anchor="end" fill="#111" >1</text>
<line x1="301.8" y1="288.4" x2="304.3" y2="288.4" stroke="#000" stroke-width="1" />
<text x="299" y="332.1" font-family='"Liberation Sans", sans-serif' font-size="10" font-weight="bold" text-anchor="end" fill="#111" >0</text>
<line x1="301.8" y1="328.5" x2="304.3" y2="328.5" stroke="#000" stroke-width="1" />
<text x="299" y="371.7" font-family='"Liberation Sans", sans-serif' font-size="10" font-weight="bold" text-anchor="end" fill="#111" >1</text>
<line x1="301.8" y1="368.1" x2="304.3" y2="368.1" stroke="#000" stroke-width="1" />
<text x="299" y="411.4" font-family='"Liberation Sans", sans-serif' font-size="10" font-weight="bold" text-anchor="end" fill="#111" >0</text>
<line x1="301.8" y1="407.8" x2="304.3" y2="407.8" stroke="#000" stroke-width="1" />
<text x="301.95" y="418.3" font-family='"Liberation Sans", sans-serif' font-size="10" font-weight="bold" text-anchor="middle" fill="#111" >-7</text>
<line x1="301.95" y1="407.8" x2="301.95" y2="405.3" stroke="#000" stroke-width="1" />
<text x="319.5" y="418.3" font-family='"Liberation Sans", sans-serif' font-size="10" font-weight="bold" text-anchor="middle" fill="#111" >-6</text>
<line x1="319.5" y1="407.8" x2="319.5" y2="405.3" stroke="#000" stroke-width="1" />
<text x="337.05" y="418.3" font-family='"Liberation Sans", sans-serif' font-size="10" font-weight="bold" text-anchor="middle" fill="#111" >-5</text>
<line x1="337.05" y1="407.8" x2="337.05" y2="405.3" stroke="#000" stroke-width="1" />
<text x="354.6" y="418.3" font-family='"Liberation Sans", sans-serif' font-size="10" font-weight="bold" text-anchor="middle" fill="#111" >-4</text>
<line x1="354.6" y1="407.8" x2="354.6" y2="405.3" stroke="#000" stroke-width="1" />
<text x="372.15" y="418.3" font-family='"Liberation Sans", sans-serif' font-size="10" font-weight="bold" text-anchor="middle" fill="#111" >-3</text>
<line x1="372.15" y1="407.8" x2="372.15" y2="405.3" stroke="#000" stroke-width="1" />
<text x="389.7" y="418.3" font-family='"Liberation Sans", sans-serif' font-size="10" font-weight="bold" text-anchor="middle" fill="#111" >-2</text>
<line x1="389.7" y1="407.8" x2="389.7" y2="405.3" stroke="#000" stroke-width="1" />
<text x="407.25" y="418.3" font-family='"Liberation Sans", sans-serif' font-size="10" font-weight="bold" text-anchor="middle" fill="#111" >-1</text>
<line x1="407.25" y1="407.8" x2="407.25" y2="405.3" stroke="#000" stroke-width="1" />
<text x="424.8" y="418.3" font-family='"Liberation Sans", sans-serif' font-size="10" font-weight="bold" text-anchor="middle" fill="#111" >0</text>
<line x1="424.8" y1="407.8" x2="424.8" y2="405.3" stroke="#000" stroke-width="1" />
<text x="442.35" y="418.3" font-family='"Liberation Sans", sans-serif' font-size="10" font-weight="bold" text-anchor="middle" fill="#111" >1</text>
<line x1="442.35" y1="407.8" x2="442.35" y2="405.3" stroke="#000" stroke-width="1" />
<text x="459.9" y="418.3" font-family='"Liberation Sans", sans-serif' font-size="10" font-weight="bold" text-anchor="middle" fill="#111" >2</text>
<line x1="459.9" y1="407.8" x2="459.9" y2="405.3" stroke="#000" stroke-width="1" />
<text x="477.45" y="418.3" font-family='"Liberation Sans", sans-serif' font-size="10" font-weight="bold" text-anchor="middle" fill="#111" >3</text>
<line x1="477.45" y1="407.8" x2="477.45" y2="405.3" stroke="#000" stroke-width="1" />
<text x="495" y="418.3" font-family='"Liberation Sans", sans-serif' font-size="10" font-weight="bold" text-anchor="middle" fill="#111" >4</text>
<line x1="495" y1="407.8" x2="495" y2="405.3" stroke="#000" stroke-width="1" />
<text x="512.55" y="418.3" font-family='"Liberation Sans", sans-serif' font-size="10" font-weight="bold" text-anchor="middle" fill="#111" >5</text>
<line x1="512.55" y1="407.8" x2="512.55" y2="405.3" stroke="#000" stroke-width="1" />
<text x="530.1" y="418.3" font-family='"Liberation Sans", sans-serif' font-size="10" font-weight="bold" text-anchor="middle" fill="#111" >6</text>
<line x1="530.1" y1="407.8" x2="530.1" y2="405.3" stroke="#000" stroke-width="1" />
<text x="0" y="0" transform="translate(289.8,328) rotate(-90)" font-family='"Liberation Sans", sans-serif' font-size="10.4" font-weight="bold" text-anchor="middle" fill="#111">DOS (states / eV)</text>
<text x="416.5" y="430.5" font-family='"Liberation Sans", sans-serif' font-size="10.3" font-weight="bold" text-anchor="middle" fill="#111" >Energy (eV)</text>
<path d="M302,328.5 L322.7,328.5 L324.4,293.6 L326.1,301.9 L327.5,328.5 L330.9,328.5 L334,315 L337.2,301.9 L338.9,295.6 L342,303.8 L344,318.3 L346.9,317.3 L348.5,303 L350.7,282.5 L353.1,318.3 L356.7,301 L358.4,328.5 L386,328.5 L391,325.2 L400,325.8 L407,328.5 L467.3,328.5 L474.6,316 L476.4,320.5 L480,312.3 L482.8,315 L486.4,313.2 L491.9,311.4 L495.5,309.6 L499.1,312.3 L503.7,316.8 L508.3,317.8 L512.8,313.2 L514.6,322.3 L516.4,328.5 L531,328.5" stroke="#6a8ee4" stroke-width="1.4" fill="none" />
<path d="M302,328.5 L322.7,328.5 L324.4,314.9 L326,320.2 L327.5,328.5 L332,328.5 L334.3,325 L338.2,312.5 L342.5,310 L345.9,313.4 L348.8,315.4 L352.2,318.3 L355.5,320.2 L356.7,312.5 L358.4,328.5 L373.3,328.5 L378.2,318.7 L381.5,312.2 L385.3,313.3 L388.5,306.7 L391.3,298 L393.5,301.3 L396.2,304.5 L398.9,304 L401.1,293.6 L403.8,280.5 L405.5,281.1 L407.3,272.4 L410.9,290.9 L413.4,280 L415.8,286 L417.5,312.2 L419.6,313.3 L422.9,328.5 L467.3,328.5 L474,322 L480,326 L490,324.5 L500,325 L510,326 L516,328.5" stroke="#2e4a22" stroke-width="1.5" fill="none" />
<path d="M302,328.5 L322.7,328.5 L324.4,320.2 L326.1,322 L327.5,328.5 L331.9,328.5 L333.3,314.4 L335.3,317.3 L338.6,310 L341,312.5 L343.5,308.6 L345.9,306.7 L348.3,310.5 L350.7,281.6 L353.1,314.4 L355,324 L356.7,300.4 L358.4,328.5 L373.3,328.5 L377.1,308.9 L378.2,313.3 L380.4,307.3 L383.1,310 L385.8,313.3 L388.5,294.7 L390.9,284.4 L392.4,290.9 L394,288.2 L396.7,295.8 L398.9,302.4 L401.1,293.1 L403.3,284.9 L404.9,290.4 L407.1,291.5 L408.7,298 L410.9,301.3 L413.6,294.7 L416.4,303.5 L418,315.5 L422.4,328.5 L467.3,328.5 L474,316.8 L478.2,323.2 L485.5,322.3 L494.6,319.6 L500,320.5 L503.7,324.1 L514.6,325 L516.4,328.5" stroke="#5535e0" stroke-width="1.4" fill="none" />
<path d="M337.5,394 L340,369.7 L342.2,392.7 Z" stroke="#c02a80" stroke-width="0.5" fill="#b8308a" />
<path d="M368.6,329 L371.6,329 L371.8,394 L369,394 Z" stroke="#b050b0" stroke-width="0.3" fill="#b868b8" />
<path d="M302,407.8 L318,407.8 L320,404 L324,405.5 L330,403 L336,404.5 L342,403 L350,405 L354,407.8 L372,407.8 L376,404.5 L386,404 L398,404.3 L402,407.8 L466,407.8 L470.9,402.4 L475.5,400.6 L477.7,384.2 L479.1,402.4 L487.3,401.5 L490,397 L493.7,393.3 L498.2,387.9 L501,393.3 L503.7,388.8 L506.4,398.8 L514.6,397.9 L516.4,407.8" stroke="#6a8ee4" stroke-width="1.4" fill="none" />
<path d="M302,407.8 L318.5,407.8 L319.2,328.5 L320.8,328.5 L321.5,403.6 L326,404 L327.3,328.5 L329.4,358.9 L331.4,365.6 L333.4,373 L334.8,394 L338.2,394 L340,369.7 L342.2,392.7 L345,363.6 L347,379.2 L349.7,395.4 L353,406.3 L355,407.8 L368.1,407.8 L369,328.5 L372.2,395.5 L376,372.4 L379,391.4 L381.7,354.1 L383.7,379.2 L387.7,388.7 L392.5,386 L397.2,394.1 L401.3,402.2 L408,403.6 L413.5,400.2 L417.6,405 L420,407.8 L466,407.8 L470,404 L474,404.5 L477.7,401.5 L481,405 L490,404 L496,402 L503,400 L508,404 L515,407.8" stroke="#a04a22" stroke-width="1.5" fill="none" />
<path d="M302,407.8 L317.5,407.8 L318.5,396.8 L321,407.8 L326.5,407.8 L327.3,404.9 L330,392.7 L331.4,379.2 L333.4,390 L336.2,398 L339.5,388.7 L342.2,400.8 L345,392.7 L348.3,403.6 L352,407.8 L368,407.8 L369.8,340 L371.2,394 L372.8,403.6 L375.6,398.2 L379,398.9 L381.7,377.9 L383.7,380.6 L387,394.1 L391.1,379.2 L393.8,382 L397.2,376.5 L400.6,363 L404,375.8 L408.1,360.9 L410.8,376.5 L413.2,348.7 L415.5,369.7 L417.6,398.2 L420.3,407.8 L466,407.8 L470,403 L477.7,400.6 L482,402.4 L490,402 L500,400 L506,402.4 L514,402 L516,407.8" stroke="#5535e0" stroke-width="1.4" fill="none" />
<line x1="301.8" y1="328.5" x2="531.1" y2="328.5" stroke="#4a40d0" stroke-width="1.4" />
<line x1="301.8" y1="407.8" x2="531.1" y2="407.8" stroke="#4a40d0" stroke-width="1.4" />
<line x1="424.8" y1="248.5" x2="424.8" y2="407.8" stroke="#000" stroke-width="1.3" stroke-dasharray="4.5,3"/>
<rect x="301.8" y="248.5" width="229.3" height="159.3" fill="none" stroke="#111" stroke-width="1.3" />
<line x1="488.5" y1="254.2" x2="507.5" y2="254.2" stroke="#6a8ee4" stroke-width="1.4" />
<text x="509.3" y="257.4" font-family='"Liberation Sans", sans-serif' font-size="8.8" font-weight="bold" text-anchor="start" fill="#111" >P-3p</text>
<line x1="488.5" y1="264.8" x2="507.5" y2="264.8" stroke="#2e4a22" stroke-width="1.4" />
<text x="509.3" y="268" font-family='"Liberation Sans", sans-serif' font-size="8.8" font-weight="bold" text-anchor="start" fill="#111" >S<tspan font-size="6" dy="2">1</tspan><tspan dy="-2">-2p</tspan></text>
<line x1="488.5" y1="276.2" x2="507.5" y2="276.2" stroke="#5535e0" stroke-width="1.4" />
<text x="509.3" y="279.4" font-family='"Liberation Sans", sans-serif' font-size="8.8" font-weight="bold" text-anchor="start" fill="#111" >S<tspan font-size="6" dy="2">2</tspan><tspan dy="-2">-2p</tspan></text>
<line x1="488.5" y1="334.5" x2="507.5" y2="334.5" stroke="#6a8ee4" stroke-width="1.4" />
<text x="509.3" y="337.7" font-family='"Liberation Sans", sans-serif' font-size="8.8" font-weight="bold" text-anchor="start" fill="#111" >P-3p</text>
<line x1="488.5" y1="344.2" x2="507.5" y2="344.2" stroke="#a04a22" stroke-width="1.4" />
<text x="509.3" y="347.4" font-family='"Liberation Sans", sans-serif' font-size="8.8" font-weight="bold" text-anchor="start" fill="#111" >O-2p</text>
<line x1="488.5" y1="354.5" x2="507.5" y2="354.5" stroke="#5535e0" stroke-width="1.4" />
<text x="509.3" y="357.7" font-family='"Liberation Sans", sans-serif' font-size="8.8" font-weight="bold" text-anchor="start" fill="#111" >S<tspan font-size="6" dy="2">2</tspan><tspan dy="-2">-2p</tspan></text>
<line x1="434.2" y1="315.2" x2="454.3" y2="284.9" stroke="#5a5ae0" stroke-width="2.6" />
<line x1="454.3" y1="284.9" x2="489.7" y2="290.8" stroke="#2a4030" stroke-width="2.2" />
<radialGradient id="g4657" cx="0.4" cy="0.4" r="0.6"><stop offset="0" stop-color="#8a80ff"/><stop offset="1" stop-color="#3a2ad0"/></radialGradient>
<circle cx="434.2" cy="315.2" r="3.6" fill="url(#g4657)" />
<circle cx="454.3" cy="284.9" r="7" fill="#cfe8fb" opacity="0.8"/>
<radialGradient id="g4827" cx="0.4" cy="0.4" r="0.6"><stop offset="0" stop-color="#c0d8ff"/><stop offset="1" stop-color="#2a5ae0"/></radialGradient>
<circle cx="454.3" cy="284.9" r="5" fill="url(#g4827)" />
<circle cx="489.7" cy="290.8" r="2.6" fill="#d8f0d0" stroke="#1a3a1a" stroke-width="1.5"/>
<text x="453" y="279" font-family='"Liberation Sans", sans-serif' font-size="9.5" font-weight="bold" text-anchor="middle" fill="#111" >P</text>
<text x="489.7" y="286.6" font-family='"Liberation Sans", sans-serif' font-size="9" font-weight="bold" text-anchor="middle" fill="#111" >S<tspan font-size="6" dy="2">1</tspan></text>
<text x="426.5" y="310.2" font-family='"Liberation Sans", sans-serif' font-size="9" font-weight="bold" text-anchor="start" fill="#111" >S<tspan font-size="6" dy="2">2</tspan></text>
<text x="460" y="299.8" font-family='"Liberation Sans", sans-serif' font-size="8.1" font-weight="bold" text-anchor="middle" fill="#111" >1.20|e|</text>
<text x="489" y="302.7" font-family='"Liberation Sans", sans-serif' font-size="8.1" font-weight="bold" text-anchor="middle" fill="#111" >-0.84|e|</text>
<text x="440" y="325.8" font-family='"Liberation Sans", sans-serif' font-size="8.1" font-weight="bold" text-anchor="middle" fill="#111" >-0.89|e|</text>
<line x1="435.4" y1="391.9" x2="448.4" y2="356.9" stroke="#5a5ae0" stroke-width="2.6" />
<line x1="448.4" y1="356.9" x2="476.7" y2="353.8" stroke="#a04a2a" stroke-width="2.2" />
<circle cx="448.4" cy="356.9" r="7" fill="#cfe8fb" opacity="0.8"/>
<radialGradient id="g4745" cx="0.4" cy="0.4" r="0.6"><stop offset="0" stop-color="#8a80ff"/><stop offset="1" stop-color="#3a2ad0"/></radialGradient>
<circle cx="435.4" cy="391.9" r="3.6" fill="url(#g4745)" />
<radialGradient id="g4840" cx="0.4" cy="0.4" r="0.6"><stop offset="0" stop-color="#c0d8ff"/><stop offset="1" stop-color="#2a5ae0"/></radialGradient>
<circle cx="448.4" cy="356.9" r="5" fill="url(#g4840)" />
<circle cx="476.7" cy="353.8" r="2.6" fill="#f0c0a0" stroke="#8a2a10" stroke-width="1.5"/>
<text x="446.6" y="350.6" font-family='"Liberation Sans", sans-serif' font-size="8.1" font-weight="bold" text-anchor="middle" fill="#111" >1.94|e|</text>
<text x="476.7" y="349.6" font-family='"Liberation Sans", sans-serif' font-size="9.5" font-weight="bold" text-anchor="middle" fill="#111" >O</text>
<text x="454.3" y="370.7" font-family='"Liberation Sans", sans-serif' font-size="9.5" font-weight="bold" text-anchor="middle" fill="#111" >P</text>
<text x="477.9" y="366" font-family='"Liberation Sans", sans-serif' font-size="8.1" font-weight="bold" text-anchor="middle" fill="#111" >-1.48|e|</text>
<text x="426.5" y="384.5" font-family='"Liberation Sans", sans-serif' font-size="9" font-weight="bold" text-anchor="start" fill="#111" >S<tspan font-size="6" dy="2">2</tspan></text>
<text x="440" y="404.2" font-family='"Liberation Sans", sans-serif' font-size="8.1" font-weight="bold" text-anchor="middle" fill="#111" >-0.88|e|</text>
<text x="6.3" y="469.6" font-family='"Liberation Serif", serif' font-size="26" font-weight="normal" text-anchor="start" fill="#000" >e</text>
<line x1="29.1" y1="472.7" x2="33.1" y2="472.7" stroke="#000" stroke-width="1.2" />
<text x="28.6" y="476.1" font-family='"Liberation Sans", sans-serif' font-size="9.4" font-weight="bold" text-anchor="end" fill="#111" >2</text>
<line x1="29.1" y1="496.6" x2="33.1" y2="496.6" stroke="#000" stroke-width="1.2" />
<text x="28.6" y="500" font-family='"Liberation Sans", sans-serif' font-size="9.4" font-weight="bold" text-anchor="end" fill="#111" >0</text>
<line x1="29.1" y1="520.5" x2="33.1" y2="520.5" stroke="#000" stroke-width="1.2" />
<text x="28.6" y="523.9" font-family='"Liberation Sans", sans-serif' font-size="9.4" font-weight="bold" text-anchor="end" fill="#111" >-2</text>
<line x1="29.1" y1="544.4" x2="33.1" y2="544.4" stroke="#000" stroke-width="1.2" />
<text x="28.6" y="547.8" font-family='"Liberation Sans", sans-serif' font-size="9.4" font-weight="bold" text-anchor="end" fill="#111" >-4</text>
<line x1="29.1" y1="568.3" x2="33.1" y2="568.3" stroke="#000" stroke-width="1.2" />
<text x="28.6" y="571.7" font-family='"Liberation Sans", sans-serif' font-size="9.4" font-weight="bold" text-anchor="end" fill="#111" >-6</text>
<line x1="29.1" y1="592.2" x2="33.1" y2="592.2" stroke="#000" stroke-width="1.2" />
<text x="28.6" y="595.6" font-family='"Liberation Sans", sans-serif' font-size="9.4" font-weight="bold" text-anchor="end" fill="#111" >-8</text>
<line x1="29.1" y1="616.1" x2="33.1" y2="616.1" stroke="#000" stroke-width="1.2" />
<text x="28.6" y="619.5" font-family='"Liberation Sans", sans-serif' font-size="9.4" font-weight="bold" text-anchor="end" fill="#111" >-10</text>
<line x1="30.6" y1="484.65" x2="33.1" y2="484.65" stroke="#000" stroke-width="1.1" />
<line x1="30.6" y1="508.55" x2="33.1" y2="508.55" stroke="#000" stroke-width="1.1" />
<line x1="30.6" y1="532.45" x2="33.1" y2="532.45" stroke="#000" stroke-width="1.1" />
<line x1="30.6" y1="556.35" x2="33.1" y2="556.35" stroke="#000" stroke-width="1.1" />
<line x1="30.6" y1="580.25" x2="33.1" y2="580.25" stroke="#000" stroke-width="1.1" />
<line x1="30.6" y1="604.15" x2="33.1" y2="604.15" stroke="#000" stroke-width="1.1" />
<text x="0" y="0" transform="translate(13.2,537.5) rotate(-90)" font-family='"Liberation Sans", sans-serif' font-size="11.8" font-weight="bold" text-anchor="middle" fill="#111">Energy (eV)</text>
<rect x="33.1" y="459.3" width="237.6" height="157.5" fill="none" stroke="#111" stroke-width="1.3" />
<rect x="60.8" y="492" width="6" height="88" fill="#c6c6c6" stroke="none" stroke-width="1" />
<ellipse cx="63.6" cy="492.5" rx="6.7" ry="4.5" fill="#c6c6c6"/>
<ellipse cx="63.8" cy="581.5" rx="7" ry="4.5" fill="#c6c6c6"/>
<rect x="48.4" y="474.2" width="31.6" height="13.8" fill="#fdeef6" stroke="none" stroke-width="1" />
<text x="63.6" y="484.3" font-family='"Liberation Sans", sans-serif' font-size="9.6" font-weight="bold" text-anchor="middle" fill="#6a2c50" >LUMO</text>
<text x="0" y="0" transform="translate(51,538) rotate(-90)" font-family='"Liberation Sans", sans-serif' font-size="9.3" font-weight="bold" text-anchor="middle" fill="#111">Voltage-endurance</text>
<text x="63.3" y="598.3" font-family='"Liberation Sans", sans-serif' font-size="9.5" font-weight="bold" text-anchor="middle" fill="#111" >HOMO</text>
<text x="116.2" y="472.6" font-family='"Liberation Sans", sans-serif' font-size="9.6" font-weight="bold" text-anchor="middle" fill="#3a3a3a" >CLA</text>
<text x="177.6" y="472.6" font-family='"Liberation Sans", sans-serif' font-size="9.6" font-weight="bold" text-anchor="middle" fill="#3a3a3a" >LiTFSI</text>
<text x="241.8" y="472.6" font-family='"Liberation Sans", sans-serif' font-size="9.6" font-weight="bold" text-anchor="middle" fill="#3a3a3a" >PEO</text>
<rect x="104.4" y="481.8" width="22.9" height="21.6" fill="#fdeef6" stroke="none" stroke-width="1" />
<text x="116.3" y="490" font-family='"Liberation Sans", sans-serif' font-size="9.3" font-weight="bold" text-anchor="middle" fill="#5e2a4c" >0.03</text>
<rect x="106.4" y="494.5" width="18.3" height="4.4" fill="#a86a5a" stroke="none" stroke-width="1" />
<line x1="120.47" y1="523.56" x2="117.92" y2="526.11" stroke="#b8a0a8" stroke-width="0.6"/>
<circle cx="119.2" cy="524.84" r="0.9" fill="#6a6266"/>
<line x1="125.27" y1="528.01" x2="122.08" y2="529.69" stroke="#b8a0a8" stroke-width="0.6"/>
<circle cx="123.68" cy="528.85" r="0.9" fill="#6a6266"/>
<line x1="120.44" y1="528.34" x2="124.03" y2="528.55" stroke="#b8a0a8" stroke-width="0.6"/>
<circle cx="122.24" cy="528.45" r="0.9" fill="#6a6266"/>
<line x1="105.17" y1="518.2" x2="102.34" y2="520.43" stroke="#b8a0a8" stroke-width="0.6"/>
<circle cx="103.75" cy="519.31" r="0.9" fill="#6a6266"/>
<line x1="126.79" y1="521.34" x2="128.26" y2="524.62" stroke="#b8a0a8" stroke-width="0.6"/>
<circle cx="127.53" cy="522.98" r="0.9" fill="#6a6266"/>
<line x1="126.86" y1="510.52" x2="125.98" y2="514.01" stroke="#b8a0a8" stroke-width="0.6"/>
<circle cx="126.42" cy="512.26" r="0.9" fill="#6a6266"/>
<line x1="113.4" y1="514.88" x2="117" y2="514.98" stroke="#b8a0a8" stroke-width="0.6"/>
<circle cx="115.2" cy="514.93" r="0.9" fill="#6a6266"/>
<line x1="115.36" y1="521.22" x2="118.92" y2="521.74" stroke="#b8a0a8" stroke-width="0.6"/>
<circle cx="117.14" cy="521.48" r="0.9" fill="#6a6266"/>
<line x1="101.82" y1="513.37" x2="104.86" y2="515.3" stroke="#b8a0a8" stroke-width="0.6"/>
<circle cx="103.34" cy="514.33" r="0.9" fill="#6a6266"/>
<line x1="112.05" y1="528.07" x2="108.48" y2="528.58" stroke="#b8a0a8" stroke-width="0.6"/>
<circle cx="110.27" cy="528.33" r="0.9" fill="#6a6266"/>
<line x1="121.44" y1="512.15" x2="124.38" y2="514.23" stroke="#b8a0a8" stroke-width="0.6"/>
<circle cx="122.91" cy="513.19" r="0.9" fill="#6a6266"/>
<line x1="125.02" y1="511.53" x2="122.43" y2="514.02" stroke="#b8a0a8" stroke-width="0.6"/>
<circle cx="123.73" cy="512.78" r="0.9" fill="#6a6266"/>
<line x1="120.81" y1="512.14" x2="117.3" y2="512.93" stroke="#b8a0a8" stroke-width="0.6"/>
<circle cx="119.05" cy="512.53" r="0.9" fill="#6a6266"/>
<line x1="104.82" y1="527.1" x2="101.28" y2="527.75" stroke="#b8a0a8" stroke-width="0.6"/>
<circle cx="103.05" cy="527.43" r="0.9" fill="#6a6266"/>
<line x1="107.6" y1="512.72" x2="109.29" y2="515.9" stroke="#b8a0a8" stroke-width="0.6"/>
<circle cx="108.45" cy="514.31" r="0.9" fill="#6a6266"/>
<line x1="127.75" y1="525.83" x2="129.34" y2="529.06" stroke="#b8a0a8" stroke-width="0.6"/>
<circle cx="128.54" cy="527.45" r="0.9" fill="#6a6266"/>
<line x1="110.66" y1="527.43" x2="110.38" y2="531.02" stroke="#b8a0a8" stroke-width="0.6"/>
<circle cx="110.52" cy="529.23" r="0.9" fill="#6a6266"/>
<line x1="118.39" y1="522.39" x2="115.65" y2="524.72" stroke="#b8a0a8" stroke-width="0.6"/>
<circle cx="117.02" cy="523.56" r="0.9" fill="#6a6266"/>
<line x1="106.63" y1="528.22" x2="110.02" y2="529.42" stroke="#b8a0a8" stroke-width="0.6"/>
<circle cx="108.32" cy="528.82" r="0.9" fill="#6a6266"/>
<line x1="122.22" y1="528.05" x2="119.69" y2="530.61" stroke="#b8a0a8" stroke-width="0.6"/>
<circle cx="120.96" cy="529.33" r="0.9" fill="#6a6266"/>
<line x1="127.68" y1="514.91" x2="124.79" y2="517.05" stroke="#b8a0a8" stroke-width="0.6"/>
<circle cx="126.24" cy="515.98" r="0.9" fill="#6a6266"/>
<line x1="114.02" y1="512.55" x2="110.76" y2="514.09" stroke="#b8a0a8" stroke-width="0.6"/>
<circle cx="112.39" cy="513.32" r="0.9" fill="#6a6266"/>
<line x1="105" y1="511.1" x2="108.58" y2="511.51" stroke="#b8a0a8" stroke-width="0.6"/>
<circle cx="106.79" cy="511.3" r="0.9" fill="#6a6266"/>
<line x1="112.61" y1="521.76" x2="109.06" y2="522.37" stroke="#b8a0a8" stroke-width="0.6"/>
<circle cx="110.84" cy="522.06" r="0.9" fill="#6a6266"/>
<line x1="101.36" y1="523.05" x2="104.81" y2="524.07" stroke="#b8a0a8" stroke-width="0.6"/>
<circle cx="103.09" cy="523.56" r="0.9" fill="#6a6266"/>
<line x1="110.92" y1="514.62" x2="112.65" y2="517.78" stroke="#b8a0a8" stroke-width="0.6"/>
<circle cx="111.79" cy="516.2" r="0.9" fill="#6a6266"/>
<line x1="124.9" y1="517.92" x2="123.67" y2="521.31" stroke="#b8a0a8" stroke-width="0.6"/>
<circle cx="124.28" cy="519.61" r="0.9" fill="#6a6266"/>
<line x1="112.95" y1="519.17" x2="109.47" y2="520.08" stroke="#b8a0a8" stroke-width="0.6"/>
<circle cx="111.21" cy="519.62" r="0.9" fill="#6a6266"/>
<line x1="120.45" y1="509.56" x2="122.19" y2="512.72" stroke="#b8a0a8" stroke-width="0.6"/>
<circle cx="121.32" cy="511.14" r="0.9" fill="#6a6266"/>
<line x1="130.1" y1="510.03" x2="126.6" y2="510.88" stroke="#b8a0a8" stroke-width="0.6"/>
<circle cx="128.35" cy="510.46" r="0.9" fill="#6a6266"/>
<circle cx="101.5" cy="510" r="3.2" fill="#3a4410"/>
<circle cx="100.54" cy="509.04" r="1.44" fill="#6a7a30" opacity="0.7"/>
<circle cx="105" cy="507.5" r="3.4" fill="#3a4410"/>
<circle cx="103.98" cy="506.48" r="1.53" fill="#6a7a30" opacity="0.7"/>
<circle cx="109.5" cy="508.5" r="3" fill="#3a4410"/>
<circle cx="108.6" cy="507.6" r="1.35" fill="#6a7a30" opacity="0.7"/>
<circle cx="113" cy="506.5" r="3" fill="#3a4410"/>
<circle cx="112.1" cy="505.6" r="1.35" fill="#6a7a30" opacity="0.7"/>
<circle cx="118" cy="507" r="3.2" fill="#3a4410"/>
<circle cx="117.04" cy="506.04" r="1.44" fill="#6a7a30" opacity="0.7"/>
<circle cx="120.5" cy="509.5" r="2.4" fill="#3a4410"/>
<circle cx="119.78" cy="508.78" r="1.08" fill="#6a7a30" opacity="0.7"/>
<circle cx="107" cy="512" r="2.4" fill="#3a4410"/>
<circle cx="106.28" cy="511.28" r="1.08" fill="#6a7a30" opacity="0.7"/>
<rect x="106" y="584.6" width="19" height="5" fill="#000" stroke="none" stroke-width="1" />
<text x="116.8" y="601.2" font-family='"Liberation Sans", sans-serif' font-size="10.3" font-weight="bold" text-anchor="middle" fill="#111" >-7.46</text>
<line x1="125.68" y1="569.62" x2="123.58" y2="572.55" stroke="#b8a0a8" stroke-width="0.6"/>
<circle cx="124.63" cy="571.08" r="0.9" fill="#6a6266"/>
<line x1="114.81" y1="558.68" x2="118.41" y2="558.83" stroke="#b8a0a8" stroke-width="0.6"/>
<circle cx="116.61" cy="558.76" r="0.9" fill="#6a6266"/>
<line x1="105.39" y1="566.43" x2="102.63" y2="568.74" stroke="#b8a0a8" stroke-width="0.6"/>
<circle cx="104.01" cy="567.58" r="0.9" fill="#6a6266"/>
<line x1="114.43" y1="569.62" x2="118.02" y2="569.81" stroke="#b8a0a8" stroke-width="0.6"/>
<circle cx="116.23" cy="569.71" r="0.9" fill="#6a6266"/>
<line x1="112.8" y1="568.39" x2="114.6" y2="571.5" stroke="#b8a0a8" stroke-width="0.6"/>
<circle cx="113.7" cy="569.94" r="0.9" fill="#6a6266"/>
<line x1="112.81" y1="570.11" x2="109.37" y2="571.17" stroke="#b8a0a8" stroke-width="0.6"/>
<circle cx="111.09" cy="570.64" r="0.9" fill="#6a6266"/>
<line x1="123.64" y1="560.44" x2="122.31" y2="563.78" stroke="#b8a0a8" stroke-width="0.6"/>
<circle cx="122.98" cy="562.11" r="0.9" fill="#6a6266"/>
<line x1="116.97" y1="566.53" x2="119.03" y2="569.48" stroke="#b8a0a8" stroke-width="0.6"/>
<circle cx="118" cy="568.01" r="0.9" fill="#6a6266"/>
<line x1="108.34" y1="563.51" x2="109.69" y2="566.85" stroke="#b8a0a8" stroke-width="0.6"/>
<circle cx="109.02" cy="565.18" r="0.9" fill="#6a6266"/>
<line x1="124.32" y1="557.15" x2="125.55" y2="560.53" stroke="#b8a0a8" stroke-width="0.6"/>
<circle cx="124.93" cy="558.84" r="0.9" fill="#6a6266"/>
<line x1="123.23" y1="567.39" x2="126.55" y2="568.78" stroke="#b8a0a8" stroke-width="0.6"/>
<circle cx="124.89" cy="568.09" r="0.9" fill="#6a6266"/>
<line x1="127.75" y1="560.38" x2="124.15" y2="560.38" stroke="#b8a0a8" stroke-width="0.6"/>
<circle cx="125.95" cy="560.38" r="0.9" fill="#6a6266"/>
<line x1="104.65" y1="570.3" x2="108.2" y2="570.91" stroke="#b8a0a8" stroke-width="0.6"/>
<circle cx="106.42" cy="570.61" r="0.9" fill="#6a6266"/>
<line x1="124.49" y1="561.05" x2="125.36" y2="564.54" stroke="#b8a0a8" stroke-width="0.6"/>
<circle cx="124.92" cy="562.79" r="0.9" fill="#6a6266"/>
<line x1="107.7" y1="556.05" x2="105.18" y2="558.63" stroke="#b8a0a8" stroke-width="0.6"/>
<circle cx="106.44" cy="557.34" r="0.9" fill="#6a6266"/>
<line x1="119.94" y1="557.7" x2="121.08" y2="561.11" stroke="#b8a0a8" stroke-width="0.6"/>
<circle cx="120.51" cy="559.41" r="0.9" fill="#6a6266"/>
<line x1="130.53" y1="565.84" x2="126.94" y2="566.06" stroke="#b8a0a8" stroke-width="0.6"/>
<circle cx="128.74" cy="565.95" r="0.9" fill="#6a6266"/>
<line x1="107.93" y1="566.16" x2="110.51" y2="568.67" stroke="#b8a0a8" stroke-width="0.6"/>
<circle cx="109.22" cy="567.42" r="0.9" fill="#6a6266"/>
<line x1="115.17" y1="573.4" x2="111.57" y2="573.64" stroke="#b8a0a8" stroke-width="0.6"/>
<circle cx="113.37" cy="573.52" r="0.9" fill="#6a6266"/>
<line x1="129.35" y1="563.72" x2="125.95" y2="564.92" stroke="#b8a0a8" stroke-width="0.6"/>
<circle cx="127.65" cy="564.32" r="0.9" fill="#6a6266"/>
<line x1="121.68" y1="566.81" x2="119.84" y2="569.9" stroke="#b8a0a8" stroke-width="0.6"/>
<circle cx="120.76" cy="568.35" r="0.9" fill="#6a6266"/>
<line x1="126.64" y1="573.87" x2="123.25" y2="575.09" stroke="#b8a0a8" stroke-width="0.6"/>
<circle cx="124.94" cy="574.48" r="0.9" fill="#6a6266"/>
<line x1="104.44" y1="559.17" x2="105.04" y2="562.73" stroke="#b8a0a8" stroke-width="0.6"/>
<circle cx="104.74" cy="560.95" r="0.9" fill="#6a6266"/>
<line x1="121.2" y1="558.79" x2="118.09" y2="560.61" stroke="#b8a0a8" stroke-width="0.6"/>
<circle cx="119.65" cy="559.7" r="0.9" fill="#6a6266"/>
<line x1="120.76" y1="553.9" x2="117.87" y2="556.05" stroke="#b8a0a8" stroke-width="0.6"/>
<circle cx="119.32" cy="554.97" r="0.9" fill="#6a6266"/>
<line x1="126.98" y1="562.76" x2="126.79" y2="566.35" stroke="#b8a0a8" stroke-width="0.6"/>
<circle cx="126.88" cy="564.56" r="0.9" fill="#6a6266"/>
<line x1="106.87" y1="565.79" x2="107.2" y2="569.37" stroke="#b8a0a8" stroke-width="0.6"/>
<circle cx="107.04" cy="567.58" r="0.9" fill="#6a6266"/>
<line x1="113.2" y1="555.88" x2="111.04" y2="558.75" stroke="#b8a0a8" stroke-width="0.6"/>
<circle cx="112.12" cy="557.32" r="0.9" fill="#6a6266"/>
<line x1="116.07" y1="554.31" x2="117.08" y2="557.77" stroke="#b8a0a8" stroke-width="0.6"/>
<circle cx="116.58" cy="556.04" r="0.9" fill="#6a6266"/>
<line x1="107.72" y1="571.56" x2="111.19" y2="572.52" stroke="#b8a0a8" stroke-width="0.6"/>
<circle cx="109.46" cy="572.04" r="0.9" fill="#6a6266"/>
<circle cx="108" cy="566" r="3.5" fill="#2e3a10"/>
<circle cx="106.95" cy="564.95" r="1.57" fill="#4a7a20" opacity="0.7"/>
<circle cx="112" cy="563" r="3.2" fill="#2e3a10"/>
<circle cx="111.04" cy="562.04" r="1.44" fill="#4a7a20" opacity="0.7"/>
<circle cx="115" cy="567" r="3.5" fill="#2e3a10"/>
<circle cx="113.95" cy="565.95" r="1.57" fill="#4a7a20" opacity="0.7"/>
<circle cx="110" cy="571" r="3.2" fill="#2e3a10"/>
<circle cx="109.04" cy="570.04" r="1.44" fill="#4a7a20" opacity="0.7"/>
<circle cx="113" cy="575" r="2.8" fill="#2e3a10"/>
<circle cx="112.16" cy="574.16" r="1.26" fill="#4a7a20" opacity="0.7"/>
<circle cx="118" cy="562" r="2.8" fill="#2e3a10"/>
<circle cx="117.16" cy="561.16" r="1.26" fill="#4a7a20" opacity="0.7"/>
<circle cx="107" cy="560" r="2.2" fill="#2e3a10"/>
<circle cx="106.34" cy="559.34" r="0.99" fill="#4a7a20" opacity="0.7"/>
<circle cx="117.5" cy="570.5" r="2.8" fill="#3a1a10"/>
<circle cx="116.66" cy="569.66" r="1.26" fill="#6a3020" opacity="0.7"/>
<rect x="165.5" y="497" width="25.4" height="21.7" fill="#fdeef6" stroke="none" stroke-width="1" />
<text x="177.6" y="507.5" font-family='"Liberation Sans", sans-serif' font-size="9.3" font-weight="bold" text-anchor="middle" fill="#5e2a4c" >-1.44</text>
<rect x="168.1" y="511.2" width="18.7" height="5.7" fill="#a86a5a" stroke="none" stroke-width="1" />
<ellipse cx="177.7" cy="526.2" rx="9.5" ry="6.8" fill="#8a1010"/>
<ellipse cx="175" cy="524.5" rx="3.2" ry="2.3" fill="#b83030"/>
<circle cx="169" cy="535" r="2.4" fill="#3a3010"/>
<circle cx="173" cy="538.5" r="2.2" fill="#b0a030"/>
<circle cx="178" cy="536.5" r="1.3" fill="#3030c0"/>
<circle cx="182" cy="539.5" r="2.4" fill="#b0a030"/>
<circle cx="186.5" cy="535" r="2.6" fill="#4a4a20"/>
<circle cx="172.5" cy="543.5" r="2" fill="#4a4010"/>
<circle cx="184" cy="543.5" r="2.2" fill="#6a5a10"/>
<circle cx="188.5" cy="539" r="1.8" fill="#3a3a20"/>
<circle cx="176" cy="532" r="1.8" fill="#2a2a10"/>
<rect x="168" y="592.4" width="19.1" height="5.8" fill="#000" stroke="none" stroke-width="1" />
<text x="177.6" y="609.6" font-family='"Liberation Sans", sans-serif' font-size="10.3" font-weight="bold" text-anchor="middle" fill="#111" >-8.12</text>
<circle cx="166" cy="574" r="1.8" fill="#3a3010"/>
<circle cx="165.46" cy="573.46" r="0.81" fill="#6a6030" opacity="0.7"/>
<circle cx="169" cy="578" r="2" fill="#3a3010"/>
<circle cx="168.4" cy="577.4" r="0.9" fill="#6a6030" opacity="0.7"/>
<circle cx="172" cy="575" r="1.8" fill="#3a3010"/>
<circle cx="171.46" cy="574.46" r="0.81" fill="#6a6030" opacity="0.7"/>
<circle cx="171" cy="583" r="2" fill="#3a3010"/>
<circle cx="170.4" cy="582.4" r="0.9" fill="#6a6030" opacity="0.7"/>
<circle cx="175" cy="580" r="2" fill="#3a3010"/>
<circle cx="174.4" cy="579.4" r="0.9" fill="#6a6030" opacity="0.7"/>
<circle cx="180.6" cy="575.5" r="5" fill="#3a5018"/>
<circle cx="179.1" cy="574" r="2.25" fill="#6a8a30" opacity="0.7"/>
<circle cx="186.8" cy="582.3" r="4.5" fill="#3a5018"/>
<circle cx="185.45" cy="580.95" r="2.02" fill="#6a8a30" opacity="0.7"/>
<circle cx="177" cy="581" r="2.5" fill="#2a3010"/>
<circle cx="176.25" cy="580.25" r="1.12" fill="#4a5a20" opacity="0.7"/>
<rect x="230.4" y="480.5" width="22.9" height="20.4" fill="#fdeef6" stroke="none" stroke-width="1" />
<text x="241.6" y="490" font-family='"Liberation Sans", sans-serif' font-size="9.3" font-weight="bold" text-anchor="middle" fill="#5e2a4c" >0.00</text>
<rect x="231.1" y="494.5" width="18.9" height="4.4" fill="#a86a5a" stroke="none" stroke-width="1" />
<ellipse cx="226.5" cy="510.4" rx="6" ry="7" fill="#6a1010"/>
<ellipse cx="225" cy="508" rx="2" ry="2" fill="#a83030"/>
<circle cx="233" cy="511" r="1.6" fill="#3a4a20"/>
<circle cx="235.6" cy="514" r="1.6" fill="#505050"/>
<circle cx="238.2" cy="511" r="1" fill="#3a4a20"/>
<circle cx="240.8" cy="514" r="1" fill="#505050"/>
<circle cx="243.4" cy="511" r="1" fill="#3a4a20"/>
<circle cx="246" cy="514" r="1" fill="#505050"/>
<circle cx="248.6" cy="511" r="1" fill="#3a4a20"/>
<circle cx="251.2" cy="514" r="1" fill="#505050"/>
<circle cx="253.8" cy="511" r="1" fill="#3a4a20"/>
<circle cx="256.4" cy="514" r="1" fill="#505050"/>
<rect x="231" y="580.8" width="19" height="5" fill="#000" stroke="none" stroke-width="1" />
<text x="241.8" y="597" font-family='"Liberation Sans", sans-serif' font-size="10.3" font-weight="bold" text-anchor="middle" fill="#111" >-7.17</text>
<circle cx="216" cy="569.8" r="1" fill="#333"/><circle cx="220.5" cy="567.5" r="1" fill="#333"/>
<circle cx="226.1" cy="572.1" r="2.8" fill="#3e6a1e"/>
<circle cx="225.26" cy="571.26" r="1.26" fill="#70a040" opacity="0.7"/>
<circle cx="231" cy="567.2" r="3" fill="#4a1a10"/>
<circle cx="230.1" cy="566.3" r="1.35" fill="#7a3a20" opacity="0.7"/>
<circle cx="235.2" cy="572.1" r="2.8" fill="#3e6a1e"/>
<circle cx="234.36" cy="571.26" r="1.26" fill="#70a040" opacity="0.7"/>
<circle cx="238.7" cy="565.1" r="3" fill="#3e6a1e"/>
<circle cx="237.8" cy="564.2" r="1.35" fill="#70a040" opacity="0.7"/>
<circle cx="242.5" cy="570.7" r="3.2" fill="#4a1a10"/>
<circle cx="241.54" cy="569.74" r="1.44" fill="#7a3a20" opacity="0.7"/>
<circle cx="247.2" cy="565.1" r="3" fill="#3e6a1e"/>
<circle cx="246.3" cy="564.2" r="1.35" fill="#70a040" opacity="0.7"/>
<circle cx="250.7" cy="572.1" r="2.8" fill="#3e6a1e"/>
<circle cx="249.86" cy="571.26" r="1.26" fill="#70a040" opacity="0.7"/>
<circle cx="254.9" cy="567.2" r="3" fill="#4a1a10"/>
<circle cx="254" cy="566.3" r="1.35" fill="#7a3a20" opacity="0.7"/>
<circle cx="259.8" cy="572.1" r="2.8" fill="#3e6a1e"/>
<circle cx="258.96" cy="571.26" r="1.26" fill="#70a040" opacity="0.7"/>
<text x="281" y="469.2" font-family='"Liberation Serif", serif' font-size="25.5" font-weight="normal" text-anchor="start" fill="#000" >f</text>
<line x1="308" y1="608.3" x2="311" y2="608.3" stroke="#333" stroke-width="0.9" />
<text x="303" y="610.9" font-family='"Liberation Sans", sans-serif' font-size="7.6" font-weight="bold" text-anchor="middle" fill="#222" >0</text>
<line x1="308" y1="574.76" x2="311" y2="574.76" stroke="#333" stroke-width="0.9" />
<text x="303" y="577.36" font-family='"Liberation Sans", sans-serif' font-size="7.6" font-weight="bold" text-anchor="middle" fill="#222" >2</text>
<line x1="308" y1="541.22" x2="311" y2="541.22" stroke="#333" stroke-width="0.9" />
<text x="303" y="543.82" font-family='"Liberation Sans", sans-serif' font-size="7.6" font-weight="bold" text-anchor="middle" fill="#222" >4</text>
<line x1="308" y1="507.68" x2="311" y2="507.68" stroke="#333" stroke-width="0.9" />
<text x="303" y="510.28" font-family='"Liberation Sans", sans-serif' font-size="7.6" font-weight="bold" text-anchor="middle" fill="#222" >6</text>
<line x1="308" y1="474.14" x2="311" y2="474.14" stroke="#333" stroke-width="0.9" />
<text x="303" y="476.74" font-family='"Liberation Sans", sans-serif' font-size="7.6" font-weight="bold" text-anchor="middle" fill="#222" >8</text>
<line x1="308" y1="591.53" x2="310" y2="591.53" stroke="#333" stroke-width="0.8" />
<line x1="308" y1="557.99" x2="310" y2="557.99" stroke="#333" stroke-width="0.8" />
<line x1="308" y1="524.45" x2="310" y2="524.45" stroke="#333" stroke-width="0.8" />
<line x1="308" y1="490.91" x2="310" y2="490.91" stroke="#333" stroke-width="0.8" />
<line x1="526" y1="583.3" x2="529.5" y2="583.3" stroke="#333" stroke-width="0.9" />
<text x="530.8" y="585.9" font-family='"Liberation Sans", sans-serif' font-size="7.6" font-weight="bold" text-anchor="middle" fill="#222" >0</text>
<line x1="526" y1="549.7" x2="529.5" y2="549.7" stroke="#333" stroke-width="0.9" />
<text x="530.8" y="552.3" font-family='"Liberation Sans", sans-serif' font-size="7.6" font-weight="bold" text-anchor="middle" fill="#222" >2</text>
<line x1="526" y1="516.1" x2="529.5" y2="516.1" stroke="#333" stroke-width="0.9" />
<text x="530.8" y="518.7" font-family='"Liberation Sans", sans-serif' font-size="7.6" font-weight="bold" text-anchor="middle" fill="#222" >4</text>
<line x1="526" y1="482.5" x2="529.5" y2="482.5" stroke="#333" stroke-width="0.9" />
<text x="530.8" y="485.1" font-family='"Liberation Sans", sans-serif' font-size="7.6" font-weight="bold" text-anchor="middle" fill="#222" >6</text>
<line x1="526" y1="600.1" x2="528" y2="600.1" stroke="#333" stroke-width="0.8" />
<line x1="526" y1="566.5" x2="528" y2="566.5" stroke="#333" stroke-width="0.8" />
<line x1="526" y1="532.9" x2="528" y2="532.9" stroke="#333" stroke-width="0.8" />
<line x1="526" y1="499.3" x2="528" y2="499.3" stroke="#333" stroke-width="0.8" />
<line x1="526" y1="465.7" x2="528" y2="465.7" stroke="#333" stroke-width="0.8" />
<line x1="308.1" y1="616.4" x2="308.1" y2="613.4" stroke="#333" stroke-width="0.9" />
<text x="308.1" y="626.5" font-family='"Liberation Sans", sans-serif' font-size="8.6" font-weight="bold" text-anchor="middle" fill="#222" >0.0</text>
<line x1="351.62" y1="616.4" x2="351.62" y2="613.4" stroke="#333" stroke-width="0.9" />
<text x="351.62" y="626.5" font-family='"Liberation Sans", sans-serif' font-size="8.6" font-weight="bold" text-anchor="middle" fill="#222" >0.2</text>
<line x1="395.14" y1="616.4" x2="395.14" y2="613.4" stroke="#333" stroke-width="0.9" />
<text x="395.14" y="626.5" font-family='"Liberation Sans", sans-serif' font-size="8.6" font-weight="bold" text-anchor="middle" fill="#222" >0.4</text>
<line x1="438.66" y1="616.4" x2="438.66" y2="613.4" stroke="#333" stroke-width="0.9" />
<text x="438.66" y="626.5" font-family='"Liberation Sans", sans-serif' font-size="8.6" font-weight="bold" text-anchor="middle" fill="#222" >0.6</text>
<line x1="482.18" y1="616.4" x2="482.18" y2="613.4" stroke="#333" stroke-width="0.9" />
<text x="482.18" y="626.5" font-family='"Liberation Sans", sans-serif' font-size="8.6" font-weight="bold" text-anchor="middle" fill="#222" >0.8</text>
<line x1="525.7" y1="616.4" x2="525.7" y2="613.4" stroke="#333" stroke-width="0.9" />
<text x="525.7" y="626.5" font-family='"Liberation Sans", sans-serif' font-size="8.6" font-weight="bold" text-anchor="middle" fill="#222" >1.0</text>
<line x1="329.86" y1="616.4" x2="329.86" y2="614.4" stroke="#333" stroke-width="0.8" />
<line x1="373.38" y1="616.4" x2="373.38" y2="614.4" stroke="#333" stroke-width="0.8" />
<line x1="416.9" y1="616.4" x2="416.9" y2="614.4" stroke="#333" stroke-width="0.8" />
<line x1="460.42" y1="616.4" x2="460.42" y2="614.4" stroke="#333" stroke-width="0.8" />
<line x1="503.94" y1="616.4" x2="503.94" y2="614.4" stroke="#333" stroke-width="0.8" />
<text x="0" y="0" transform="translate(292.6,542.2) rotate(-90)" font-family='"Liberation Sans", sans-serif' font-size="8.4" font-weight="bold" text-anchor="middle" fill="#111">Work function (eV)</text>
<text x="0" y="0" transform="translate(546,541.5) rotate(-90)" font-family='"Liberation Sans", sans-serif' font-size="8.2" font-weight="bold" text-anchor="middle" fill="#111">Voltage (V)</text>
<text x="384.5" y="636.7" font-family='"Liberation Sans", sans-serif' font-size="8.3" font-weight="bold" text-anchor="start" fill="#111" >Li composition, <tspan font-style="italic">x</tspan></text>
<rect x="308" y="456.5" width="218" height="159.9" fill="none" stroke="#444" stroke-width="0.9" />
<path d="M308,512.4 C311.67,512.67 321.33,513.48 330,514 C338.67,514.52 346.67,515.12 360,515.5 C373.33,515.88 396.67,515.88 410,516.3 C423.33,516.72 431.67,517.38 440,518 C448.33,518.62 452.48,518.88 460,520 C467.52,521.12 480.92,523.92 485.1,524.7" stroke="#555" stroke-width="1.1" fill="none" stroke-dasharray="1.4,1.2"/>
<path d="M308,473.5 L362.8,473.8 L362.8,487 L398.4,487 L398.4,498.4 L435.5,498.4 L435.5,495.9 L471.1,495.9 L471.1,512.4 L508,512.4 L508,531.5 L526,531.5" stroke="#111" stroke-width="1.5" fill="none" />
<rect x="306.2" y="471.2" width="4.6" height="4.6" rx="1.4" fill="#000"/>
<rect x="342.7" y="471.3" width="4.6" height="4.6" rx="1.4" fill="#000"/>
<rect x="377.6" y="484.7" width="4.6" height="4.6" rx="1.4" fill="#000"/>
<rect x="414.8" y="496.1" width="4.6" height="4.6" rx="1.4" fill="#000"/>
<rect x="451.7" y="493.6" width="4.6" height="4.6" rx="1.4" fill="#000"/>
<rect x="487.1" y="510.1" width="4.6" height="4.6" rx="1.4" fill="#000"/>
<rect x="523.2" y="529.2" width="4.6" height="4.6" rx="1.4" fill="#000"/>
<line x1="472.4" y1="462.8" x2="486.4" y2="462.8" stroke="#000" stroke-width="1.3" />
<rect x="477.6" y="461" width="3.6" height="3.6" fill="#000" stroke="none" stroke-width="1" />
<text x="487.6" y="465.4" font-family='"Liberation Sans", sans-serif' font-size="6.6" font-weight="bold" text-anchor="start" fill="#111" >Calc. (Surf.)</text>
<line x1="472.4" y1="470" x2="486.4" y2="470" stroke="#777" stroke-width="1" stroke-dasharray="1.5,1"/>
<text x="487.6" y="472.5" font-family='"Liberation Sans", sans-serif' font-size="6.6" font-weight="bold" text-anchor="start" fill="#111" >Expt.</text>
<text x="342.4" y="535.5" font-family='"Liberation Sans", sans-serif' font-size="10.5" font-weight="normal" text-anchor="start" fill="#111" >Li<tspan font-size="7.5" dy="2.5">0</tspan><tspan dy="-2.5">Mn</tspan><tspan font-size="7.5" dy="2.5">2</tspan><tspan dy="-2.5">O</tspan><tspan font-size="7.5" dy="2.5">4</tspan></text>
<text x="430.4" y="535.5" font-family='"Liberation Sans", sans-serif' font-size="10.5" font-weight="normal" text-anchor="start" fill="#111" >Li<tspan font-size="7.5" dy="2.5">1</tspan><tspan dy="-2.5">Mn</tspan><tspan font-size="7.5" dy="2.5">2</tspan><tspan dy="-2.5">O</tspan><tspan font-size="7.5" dy="2.5">4</tspan></text>
<clipPath id="cr11"><rect x="329.5" y="540.1" width="67.6" height="67.2"/></clipPath>
<g clip-path="url(#cr11)">
<rect x="329.5" y="540.1" width="67.6" height="67.2" fill="#ffffff" stroke="none" stroke-width="1" />
<rect x="329.5" y="551.6" width="67.6" height="9" fill="#fce6f4" stroke="none" stroke-width="1" />
<clipPath id="cr11l"><rect x="329.5" y="559.6" width="67.6" height="47.7"/></clipPath><g clip-path="url(#cr11l)">
<rect x="329.5" y="559.6" width="67.6" height="47.7" fill="#5814bc" stroke="none" stroke-width="1" />
<path d="M329.5,457.6 L397.1,494.78 L397.1,499.28 L329.5,462.1 Z" fill="#7e2e10"/>
<path d="M329.5,468.1 L397.1,505.28 L397.1,509.78 L329.5,472.6 Z" fill="#7e2e10"/>
<path d="M329.5,478.6 L397.1,515.78 L397.1,520.28 L329.5,483.1 Z" fill="#7e2e10"/>
<path d="M329.5,489.1 L397.1,526.28 L397.1,530.78 L329.5,493.6 Z" fill="#7e2e10"/>
<path d="M329.5,499.6 L397.1,536.78 L397.1,541.28 L329.5,504.1 Z" fill="#7e2e10"/>
<path d="M329.5,510.1 L397.1,547.28 L397.1,551.78 L329.5,514.6 Z" fill="#7e2e10"/>
<path d="M329.5,520.6 L397.1,557.78 L397.1,562.28 L329.5,525.1 Z" fill="#7e2e10"/>
<path d="M329.5,531.1 L397.1,568.28 L397.1,572.78 L329.5,535.6 Z" fill="#7e2e10"/>
<path d="M329.5,541.6 L397.1,578.78 L397.1,583.28 L329.5,546.1 Z" fill="#7e2e10"/>
<path d="M329.5,552.1 L397.1,589.28 L397.1,593.78 L329.5,556.6 Z" fill="#7e2e10"/>
<path d="M329.5,562.6 L397.1,599.78 L397.1,604.28 L329.5,567.1 Z" fill="#7e2e10"/>
<path d="M329.5,573.1 L397.1,610.28 L397.1,614.78 L329.5,577.6 Z" fill="#7e2e10"/>
<path d="M329.5,583.6 L397.1,620.78 L397.1,625.28 L329.5,588.1 Z" fill="#7e2e10"/>
<path d="M329.5,594.1 L397.1,631.28 L397.1,635.78 L329.5,598.6 Z" fill="#7e2e10"/>
<path d="M329.5,604.6 L397.1,641.78 L397.1,646.28 L329.5,609.1 Z" fill="#7e2e10"/>
<path d="M329.5,615.1 L397.1,652.28 L397.1,656.78 L329.5,619.6 Z" fill="#7e2e10"/>
<path d="M329.5,625.6 L397.1,662.78 L397.1,667.28 L329.5,630.1 Z" fill="#7e2e10"/>
<path d="M329.5,636.1 L397.1,673.28 L397.1,677.78 L329.5,640.6 Z" fill="#7e2e10"/>
</g>
<path d="M352.54,571.01 L356.54,567.51 L360.54,571.01 L356.54,574.51 Z" fill="#d01808"/>
<path d="M360.65,597.22 L364.65,593.72 L368.65,597.22 L364.65,600.72 Z" fill="#d01808"/>
<path d="M339.02,587.14 L343.02,583.64 L347.02,587.14 L343.02,590.64 Z" fill="#d01808"/>
<path d="M376.2,583.78 L380.2,580.28 L384.2,583.78 L380.2,587.28 Z" fill="#d01808"/>
<ellipse cx="332.5" cy="565.6" rx="2.8" ry="1.1" fill="#fbe8f6" transform="rotate(32 332.5 565.6)"/>
<ellipse cx="341" cy="565.6" rx="2.8" ry="1.1" fill="#fbe8f6" transform="rotate(32 341 565.6)"/>
<ellipse cx="349.5" cy="565.6" rx="2.8" ry="1.1" fill="#fbe8f6" transform="rotate(32 349.5 565.6)"/>
<ellipse cx="358" cy="565.6" rx="2.8" ry="1.1" fill="#fbe8f6" transform="rotate(32 358 565.6)"/>
<ellipse cx="366.5" cy="565.6" rx="2.8" ry="1.1" fill="#fbe8f6" transform="rotate(32 366.5 565.6)"/>
<ellipse cx="375" cy="565.6" rx="2.8" ry="1.1" fill="#fbe8f6" transform="rotate(32 375 565.6)"/>
<ellipse cx="383.5" cy="565.6" rx="2.8" ry="1.1" fill="#fbe8f6" transform="rotate(32 383.5 565.6)"/>
<ellipse cx="392" cy="565.6" rx="2.8" ry="1.1" fill="#fbe8f6" transform="rotate(32 392 565.6)"/>
<ellipse cx="400.5" cy="565.6" rx="2.8" ry="1.1" fill="#fbe8f6" transform="rotate(32 400.5 565.6)"/>
<ellipse cx="336.7" cy="574.2" rx="2.8" ry="1.1" fill="#fbe8f6" transform="rotate(32 336.7 574.2)"/>
<ellipse cx="345.2" cy="574.2" rx="2.8" ry="1.1" fill="#fbe8f6" transform="rotate(32 345.2 574.2)"/>
<ellipse cx="353.7" cy="574.2" rx="2.8" ry="1.1" fill="#fbe8f6" transform="rotate(32 353.7 574.2)"/>
<ellipse cx="362.2" cy="574.2" rx="2.8" ry="1.1" fill="#fbe8f6" transform="rotate(32 362.2 574.2)"/>
<ellipse cx="370.7" cy="574.2" rx="2.8" ry="1.1" fill="#fbe8f6" transform="rotate(32 370.7 574.2)"/>
<ellipse cx="379.2" cy="574.2" rx="2.8" ry="1.1" fill="#fbe8f6" transform="rotate(32 379.2 574.2)"/>
<ellipse cx="387.7" cy="574.2" rx="2.8" ry="1.1" fill="#fbe8f6" transform="rotate(32 387.7 574.2)"/>
<ellipse cx="396.2" cy="574.2" rx="2.8" ry="1.1" fill="#fbe8f6" transform="rotate(32 396.2 574.2)"/>
<ellipse cx="404.7" cy="574.2" rx="2.8" ry="1.1" fill="#fbe8f6" transform="rotate(32 404.7 574.2)"/>
<ellipse cx="332.5" cy="582.8" rx="2.8" ry="1.1" fill="#fbe8f6" transform="rotate(32 332.5 582.8)"/>
<ellipse cx="341" cy="582.8" rx="2.8" ry="1.1" fill="#fbe8f6" transform="rotate(32 341 582.8)"/>
<ellipse cx="349.5" cy="582.8" rx="2.8" ry="1.1" fill="#fbe8f6" transform="rotate(32 349.5 582.8)"/>
<ellipse cx="358" cy="582.8" rx="2.8" ry="1.1" fill="#fbe8f6" transform="rotate(32 358 582.8)"/>
<ellipse cx="366.5" cy="582.8" rx="2.8" ry="1.1" fill="#fbe8f6" transform="rotate(32 366.5 582.8)"/>
<ellipse cx="375" cy="582.8" rx="2.8" ry="1.1" fill="#fbe8f6" transform="rotate(32 375 582.8)"/>
<ellipse cx="383.5" cy="582.8" rx="2.8" ry="1.1" fill="#fbe8f6" transform="rotate(32 383.5 582.8)"/>
<ellipse cx="392" cy="582.8" rx="2.8" ry="1.1" fill="#fbe8f6" transform="rotate(32 392 582.8)"/>
<ellipse cx="400.5" cy="582.8" rx="2.8" ry="1.1" fill="#fbe8f6" transform="rotate(32 400.5 582.8)"/>
<ellipse cx="336.7" cy="591.4" rx="2.8" ry="1.1" fill="#fbe8f6" transform="rotate(32 336.7 591.4)"/>
<ellipse cx="345.2" cy="591.4" rx="2.8" ry="1.1" fill="#fbe8f6" transform="rotate(32 345.2 591.4)"/>
<ellipse cx="353.7" cy="591.4" rx="2.8" ry="1.1" fill="#fbe8f6" transform="rotate(32 353.7 591.4)"/>
<ellipse cx="362.2" cy="591.4" rx="2.8" ry="1.1" fill="#fbe8f6" transform="rotate(32 362.2 591.4)"/>
<ellipse cx="370.7" cy="591.4" rx="2.8" ry="1.1" fill="#fbe8f6" transform="rotate(32 370.7 591.4)"/>
<ellipse cx="379.2" cy="591.4" rx="2.8" ry="1.1" fill="#fbe8f6" transform="rotate(32 379.2 591.4)"/>
<ellipse cx="387.7" cy="591.4" rx="2.8" ry="1.1" fill="#fbe8f6" transform="rotate(32 387.7 591.4)"/>
<ellipse cx="396.2" cy="591.4" rx="2.8" ry="1.1" fill="#fbe8f6" transform="rotate(32 396.2 591.4)"/>
<ellipse cx="404.7" cy="591.4" rx="2.8" ry="1.1" fill="#fbe8f6" transform="rotate(32 404.7 591.4)"/>
<ellipse cx="332.5" cy="600" rx="2.8" ry="1.1" fill="#fbe8f6" transform="rotate(32 332.5 600)"/>
<ellipse cx="341" cy="600" rx="2.8" ry="1.1" fill="#fbe8f6" transform="rotate(32 341 600)"/>
<ellipse cx="349.5" cy="600" rx="2.8" ry="1.1" fill="#fbe8f6" transform="rotate(32 349.5 600)"/>
<ellipse cx="358" cy="600" rx="2.8" ry="1.1" fill="#fbe8f6" transform="rotate(32 358 600)"/>
<ellipse cx="366.5" cy="600" rx="2.8" ry="1.1" fill="#fbe8f6" transform="rotate(32 366.5 600)"/>
<ellipse cx="375" cy="600" rx="2.8" ry="1.1" fill="#fbe8f6" transform="rotate(32 375 600)"/>
<ellipse cx="383.5" cy="600" rx="2.8" ry="1.1" fill="#fbe8f6" transform="rotate(32 383.5 600)"/>
<ellipse cx="392" cy="600" rx="2.8" ry="1.1" fill="#fbe8f6" transform="rotate(32 392 600)"/>
<ellipse cx="400.5" cy="600" rx="2.8" ry="1.1" fill="#fbe8f6" transform="rotate(32 400.5 600)"/>
<ellipse cx="336.7" cy="608.6" rx="2.8" ry="1.1" fill="#fbe8f6" transform="rotate(32 336.7 608.6)"/>
<ellipse cx="345.2" cy="608.6" rx="2.8" ry="1.1" fill="#fbe8f6" transform="rotate(32 345.2 608.6)"/>
<ellipse cx="353.7" cy="608.6" rx="2.8" ry="1.1" fill="#fbe8f6" transform="rotate(32 353.7 608.6)"/>
<ellipse cx="362.2" cy="608.6" rx="2.8" ry="1.1" fill="#fbe8f6" transform="rotate(32 362.2 608.6)"/>
<ellipse cx="370.7" cy="608.6" rx="2.8" ry="1.1" fill="#fbe8f6" transform="rotate(32 370.7 608.6)"/>
<ellipse cx="379.2" cy="608.6" rx="2.8" ry="1.1" fill="#fbe8f6" transform="rotate(32 379.2 608.6)"/>
<ellipse cx="387.7" cy="608.6" rx="2.8" ry="1.1" fill="#fbe8f6" transform="rotate(32 387.7 608.6)"/>
<ellipse cx="396.2" cy="608.6" rx="2.8" ry="1.1" fill="#fbe8f6" transform="rotate(32 396.2 608.6)"/>
<ellipse cx="404.7" cy="608.6" rx="2.8" ry="1.1" fill="#fbe8f6" transform="rotate(32 404.7 608.6)"/>
<path d="M330.5,562.6 L336.5,556.6 L342.5,562.6 Z" fill="#6e2a0e"/>
<path d="M345,562.6 L351,556.6 L357,562.6 Z" fill="#6e2a0e"/>
<path d="M359.5,562.6 L365.5,556.6 L371.5,562.6 Z" fill="#6e2a0e"/>
<path d="M374,562.6 L380,556.6 L386,562.6 Z" fill="#6e2a0e"/>
<path d="M388.5,562.6 L394.5,556.6 L400.5,562.6 Z" fill="#6e2a0e"/>
<path d="M403,562.6 L409,556.6 L415,562.6 Z" fill="#6e2a0e"/>
<circle cx="346.4" cy="575.1" r="6.5" fill="#fff2fa"/>
<circle cx="377.2" cy="577.2" r="7" fill="#fff2fa"/>
<circle cx="362.5" cy="604.5" r="5.5" fill="#fff2fa"/>
<circle cx="386.5" cy="602" r="5.5" fill="#fff2fa"/>
<circle cx="329.5" cy="580" r="3" fill="#fff2fa"/>
</g>
<rect x="329.5" y="540.1" width="67.6" height="67.2" fill="none" stroke="#555" stroke-width="1.2" />
<clipPath id="cr12"><rect x="418.5" y="540.1" width="66.9" height="67.2"/></clipPath>
<g clip-path="url(#cr12)">
<rect x="418.5" y="540.1" width="66.9" height="67.2" fill="#ffffff" stroke="none" stroke-width="1" />
<rect x="418.5" y="551.6" width="66.9" height="9" fill="#fce6f4" stroke="none" stroke-width="1" />
<clipPath id="cr12l"><rect x="418.5" y="559.6" width="66.9" height="47.7"/></clipPath><g clip-path="url(#cr12l)">
<rect x="418.5" y="559.6" width="66.9" height="47.7" fill="#5814bc" stroke="none" stroke-width="1" />
<path d="M418.5,457.6 L485.4,494.4 L485.4,498.9 L418.5,462.1 Z" fill="#7e2e10"/>
<path d="M418.5,468.1 L485.4,504.9 L485.4,509.4 L418.5,472.6 Z" fill="#7e2e10"/>
<path d="M418.5,478.6 L485.4,515.39 L485.4,519.89 L418.5,483.1 Z" fill="#7e2e10"/>
<path d="M418.5,489.1 L485.4,525.89 L485.4,530.39 L418.5,493.6 Z" fill="#7e2e10"/>
<path d="M418.5,499.6 L485.4,536.39 L485.4,540.89 L418.5,504.1 Z" fill="#7e2e10"/>
<path d="M418.5,510.1 L485.4,546.89 L485.4,551.39 L418.5,514.6 Z" fill="#7e2e10"/>
<path d="M418.5,520.6 L485.4,557.39 L485.4,561.89 L418.5,525.1 Z" fill="#7e2e10"/>
<path d="M418.5,531.1 L485.4,567.89 L485.4,572.39 L418.5,535.6 Z" fill="#7e2e10"/>
<path d="M418.5,541.6 L485.4,578.39 L485.4,582.89 L418.5,546.1 Z" fill="#7e2e10"/>
<path d="M418.5,552.1 L485.4,588.89 L485.4,593.39 L418.5,556.6 Z" fill="#7e2e10"/>
<path d="M418.5,562.6 L485.4,599.39 L485.4,603.89 L418.5,567.1 Z" fill="#7e2e10"/>
<path d="M418.5,573.1 L485.4,609.89 L485.4,614.39 L418.5,577.6 Z" fill="#7e2e10"/>
<path d="M418.5,583.6 L485.4,620.39 L485.4,624.89 L418.5,588.1 Z" fill="#7e2e10"/>
<path d="M418.5,594.1 L485.4,630.89 L485.4,635.39 L418.5,598.6 Z" fill="#7e2e10"/>
<path d="M418.5,604.6 L485.4,641.39 L485.4,645.89 L418.5,609.1 Z" fill="#7e2e10"/>
<path d="M418.5,615.1 L485.4,651.89 L485.4,656.39 L418.5,619.6 Z" fill="#7e2e10"/>
<path d="M418.5,625.6 L485.4,662.39 L485.4,666.89 L418.5,630.1 Z" fill="#7e2e10"/>
<path d="M418.5,636.1 L485.4,672.89 L485.4,677.39 L418.5,640.6 Z" fill="#7e2e10"/>
</g>
<path d="M431.89,571.01 L435.89,567.51 L439.89,571.01 L435.89,574.51 Z" fill="#d01808"/>
<path d="M447.95,562.28 L451.95,558.78 L455.95,562.28 L451.95,565.78 Z" fill="#d01808"/>
<path d="M455.98,597.22 L459.98,593.72 L463.98,597.22 L459.98,600.72 Z" fill="#d01808"/>
<path d="M422.53,581.76 L426.53,578.26 L430.53,581.76 L426.53,585.26 Z" fill="#d01808"/>
<path d="M468.02,588.48 L472.02,584.98 L476.02,588.48 L472.02,591.98 Z" fill="#d01808"/>
<path d="M439.92,587.14 L443.92,583.64 L447.92,587.14 L443.92,590.64 Z" fill="#d01808"/>
<ellipse cx="421.5" cy="565.6" rx="2.8" ry="1.1" fill="#fbe8f6" transform="rotate(32 421.5 565.6)"/>
<ellipse cx="430" cy="565.6" rx="2.8" ry="1.1" fill="#fbe8f6" transform="rotate(32 430 565.6)"/>
<ellipse cx="438.5" cy="565.6" rx="2.8" ry="1.1" fill="#fbe8f6" transform="rotate(32 438.5 565.6)"/>
<ellipse cx="447" cy="565.6" rx="2.8" ry="1.1" fill="#fbe8f6" transform="rotate(32 447 565.6)"/>
<ellipse cx="455.5" cy="565.6" rx="2.8" ry="1.1" fill="#fbe8f6" transform="rotate(32 455.5 565.6)"/>
<ellipse cx="464" cy="565.6" rx="2.8" ry="1.1" fill="#fbe8f6" transform="rotate(32 464 565.6)"/>
<ellipse cx="472.5" cy="565.6" rx="2.8" ry="1.1" fill="#fbe8f6" transform="rotate(32 472.5 565.6)"/>
<ellipse cx="481" cy="565.6" rx="2.8" ry="1.1" fill="#fbe8f6" transform="rotate(32 481 565.6)"/>
<ellipse cx="489.5" cy="565.6" rx="2.8" ry="1.1" fill="#fbe8f6" transform="rotate(32 489.5 565.6)"/>
<ellipse cx="425.7" cy="574.2" rx="2.8" ry="1.1" fill="#fbe8f6" transform="rotate(32 425.7 574.2)"/>
<ellipse cx="434.2" cy="574.2" rx="2.8" ry="1.1" fill="#fbe8f6" transform="rotate(32 434.2 574.2)"/>
<ellipse cx="442.7" cy="574.2" rx="2.8" ry="1.1" fill="#fbe8f6" transform="rotate(32 442.7 574.2)"/>
<ellipse cx="451.2" cy="574.2" rx="2.8" ry="1.1" fill="#fbe8f6" transform="rotate(32 451.2 574.2)"/>
<ellipse cx="459.7" cy="574.2" rx="2.8" ry="1.1" fill="#fbe8f6" transform="rotate(32 459.7 574.2)"/>
<ellipse cx="468.2" cy="574.2" rx="2.8" ry="1.1" fill="#fbe8f6" transform="rotate(32 468.2 574.2)"/>
<ellipse cx="476.7" cy="574.2" rx="2.8" ry="1.1" fill="#fbe8f6" transform="rotate(32 476.7 574.2)"/>
<ellipse cx="485.2" cy="574.2" rx="2.8" ry="1.1" fill="#fbe8f6" transform="rotate(32 485.2 574.2)"/>
<ellipse cx="493.7" cy="574.2" rx="2.8" ry="1.1" fill="#fbe8f6" transform="rotate(32 493.7 574.2)"/>
<ellipse cx="421.5" cy="582.8" rx="2.8" ry="1.1" fill="#fbe8f6" transform="rotate(32 421.5 582.8)"/>
<ellipse cx="430" cy="582.8" rx="2.8" ry="1.1" fill="#fbe8f6" transform="rotate(32 430 582.8)"/>
<ellipse cx="438.5" cy="582.8" rx="2.8" ry="1.1" fill="#fbe8f6" transform="rotate(32 438.5 582.8)"/>
<ellipse cx="447" cy="582.8" rx="2.8" ry="1.1" fill="#fbe8f6" transform="rotate(32 447 582.8)"/>
<ellipse cx="455.5" cy="582.8" rx="2.8" ry="1.1" fill="#fbe8f6" transform="rotate(32 455.5 582.8)"/>
<ellipse cx="464" cy="582.8" rx="2.8" ry="1.1" fill="#fbe8f6" transform="rotate(32 464 582.8)"/>
<ellipse cx="472.5" cy="582.8" rx="2.8" ry="1.1" fill="#fbe8f6" transform="rotate(32 472.5 582.8)"/>
<ellipse cx="481" cy="582.8" rx="2.8" ry="1.1" fill="#fbe8f6" transform="rotate(32 481 582.8)"/>
<ellipse cx="489.5" cy="582.8" rx="2.8" ry="1.1" fill="#fbe8f6" transform="rotate(32 489.5 582.8)"/>
<ellipse cx="425.7" cy="591.4" rx="2.8" ry="1.1" fill="#fbe8f6" transform="rotate(32 425.7 591.4)"/>
<ellipse cx="434.2" cy="591.4" rx="2.8" ry="1.1" fill="#fbe8f6" transform="rotate(32 434.2 591.4)"/>
<ellipse cx="442.7" cy="591.4" rx="2.8" ry="1.1" fill="#fbe8f6" transform="rotate(32 442.7 591.4)"/>
<ellipse cx="451.2" cy="591.4" rx="2.8" ry="1.1" fill="#fbe8f6" transform="rotate(32 451.2 591.4)"/>
<ellipse cx="459.7" cy="591.4" rx="2.8" ry="1.1" fill="#fbe8f6" transform="rotate(32 459.7 591.4)"/>
<ellipse cx="468.2" cy="591.4" rx="2.8" ry="1.1" fill="#fbe8f6" transform="rotate(32 468.2 591.4)"/>
<ellipse cx="476.7" cy="591.4" rx="2.8" ry="1.1" fill="#fbe8f6" transform="rotate(32 476.7 591.4)"/>
<ellipse cx="485.2" cy="591.4" rx="2.8" ry="1.1" fill="#fbe8f6" transform="rotate(32 485.2 591.4)"/>
<ellipse cx="493.7" cy="591.4" rx="2.8" ry="1.1" fill="#fbe8f6" transform="rotate(32 493.7 591.4)"/>
<ellipse cx="421.5" cy="600" rx="2.8" ry="1.1" fill="#fbe8f6" transform="rotate(32 421.5 600)"/>
<ellipse cx="430" cy="600" rx="2.8" ry="1.1" fill="#fbe8f6" transform="rotate(32 430 600)"/>
<ellipse cx="438.5" cy="600" rx="2.8" ry="1.1" fill="#fbe8f6" transform="rotate(32 438.5 600)"/>
<ellipse cx="447" cy="600" rx="2.8" ry="1.1" fill="#fbe8f6" transform="rotate(32 447 600)"/>
<ellipse cx="455.5" cy="600" rx="2.8" ry="1.1" fill="#fbe8f6" transform="rotate(32 455.5 600)"/>
<ellipse cx="464" cy="600" rx="2.8" ry="1.1" fill="#fbe8f6" transform="rotate(32 464 600)"/>
<ellipse cx="472.5" cy="600" rx="2.8" ry="1.1" fill="#fbe8f6" transform="rotate(32 472.5 600)"/>
<ellipse cx="481" cy="600" rx="2.8" ry="1.1" fill="#fbe8f6" transform="rotate(32 481 600)"/>
<ellipse cx="489.5" cy="600" rx="2.8" ry="1.1" fill="#fbe8f6" transform="rotate(32 489.5 600)"/>
<ellipse cx="425.7" cy="608.6" rx="2.8" ry="1.1" fill="#fbe8f6" transform="rotate(32 425.7 608.6)"/>
<ellipse cx="434.2" cy="608.6" rx="2.8" ry="1.1" fill="#fbe8f6" transform="rotate(32 434.2 608.6)"/>
<ellipse cx="442.7" cy="608.6" rx="2.8" ry="1.1" fill="#fbe8f6" transform="rotate(32 442.7 608.6)"/>
<ellipse cx="451.2" cy="608.6" rx="2.8" ry="1.1" fill="#fbe8f6" transform="rotate(32 451.2 608.6)"/>
<ellipse cx="459.7" cy="608.6" rx="2.8" ry="1.1" fill="#fbe8f6" transform="rotate(32 459.7 608.6)"/>
<ellipse cx="468.2" cy="608.6" rx="2.8" ry="1.1" fill="#fbe8f6" transform="rotate(32 468.2 608.6)"/>
<ellipse cx="476.7" cy="608.6" rx="2.8" ry="1.1" fill="#fbe8f6" transform="rotate(32 476.7 608.6)"/>
<ellipse cx="485.2" cy="608.6" rx="2.8" ry="1.1" fill="#fbe8f6" transform="rotate(32 485.2 608.6)"/>
<ellipse cx="493.7" cy="608.6" rx="2.8" ry="1.1" fill="#fbe8f6" transform="rotate(32 493.7 608.6)"/>
<path d="M419.5,562.6 L425.5,556.6 L431.5,562.6 Z" fill="#6e2a0e"/>
<path d="M434,562.6 L440,556.6 L446,562.6 Z" fill="#6e2a0e"/>
<path d="M448.5,562.6 L454.5,556.6 L460.5,562.6 Z" fill="#6e2a0e"/>
<path d="M463,562.6 L469,556.6 L475,562.6 Z" fill="#6e2a0e"/>
<path d="M477.5,562.6 L483.5,556.6 L489.5,562.6 Z" fill="#6e2a0e"/>
<path d="M492,562.6 L498,556.6 L504,562.6 Z" fill="#6e2a0e"/>
<circle cx="435" cy="572.3" r="5" fill="#f4faea"/>
<circle cx="470" cy="579.3" r="5.5" fill="#f4faea"/>
<circle cx="424" cy="603" r="4.5" fill="#f4faea"/>
<circle cx="450.4" cy="603.5" r="4.5" fill="#f4faea"/>
<circle cx="474.2" cy="603" r="5" fill="#f4faea"/>
<circle cx="435" cy="556.2" r="4.2" fill="#a8c420"/>
<circle cx="434.2" cy="555.4" r="1.89" fill="#dcee90"/>
<circle cx="444.1" cy="552.7" r="4.8" fill="#a8c420"/>
<circle cx="443.3" cy="551.9" r="2.16" fill="#dcee90"/>
<circle cx="461.6" cy="556.2" r="4.2" fill="#a8c420"/>
<circle cx="460.8" cy="555.4" r="1.89" fill="#dcee90"/>
<circle cx="470.5" cy="557" r="3" fill="#a8c420"/>
<circle cx="469.7" cy="556.2" r="1.35" fill="#dcee90"/>
<circle cx="453" cy="558" r="3" fill="#a8c420"/>
<circle cx="452.2" cy="557.2" r="1.35" fill="#dcee90"/>
<circle cx="435" cy="572.3" r="3.8" fill="#a8c420"/>
<circle cx="434.2" cy="571.5" r="1.71" fill="#dcee90"/>
<circle cx="470" cy="579.3" r="4.5" fill="#a8c420"/>
<circle cx="469.2" cy="578.5" r="2.02" fill="#dcee90"/>
<circle cx="461.6" cy="573" r="3.5" fill="#a8c420"/>
<circle cx="460.8" cy="572.2" r="1.57" fill="#dcee90"/>
<circle cx="423.8" cy="603" r="3.8" fill="#a8c420"/>
<circle cx="423" cy="602.2" r="1.71" fill="#dcee90"/>
<circle cx="450.4" cy="603.5" r="3.5" fill="#a8c420"/>
<circle cx="449.6" cy="602.7" r="1.57" fill="#dcee90"/>
<circle cx="474.2" cy="603" r="4" fill="#a8c420"/>
<circle cx="473.4" cy="602.2" r="1.8" fill="#dcee90"/>
<circle cx="480" cy="603" r="3" fill="#a8c420"/>
<circle cx="479.2" cy="602.2" r="1.35" fill="#dcee90"/>
</g>
<rect x="418.5" y="540.1" width="66.9" height="67.2" fill="none" stroke="#555" stroke-width="1.2" />
<path d="M328,503 L318.5,490.5" stroke="#3a50e0" stroke-width="4.2" fill="none" />
<path d="M312.8,482.2 L324,486.8 L315.4,493.8 Z" stroke="#3a50e0" stroke-width="1" fill="#3a50e0" />
<path d="M493.5,546 L509,538.5" stroke="#3a50e0" stroke-width="4.2" fill="none" />
<path d="M519,533.2 L505.5,532.8 L510.8,543 Z" stroke="#3a50e0" stroke-width="1" fill="#3a50e0" />
</svg></body></html>
